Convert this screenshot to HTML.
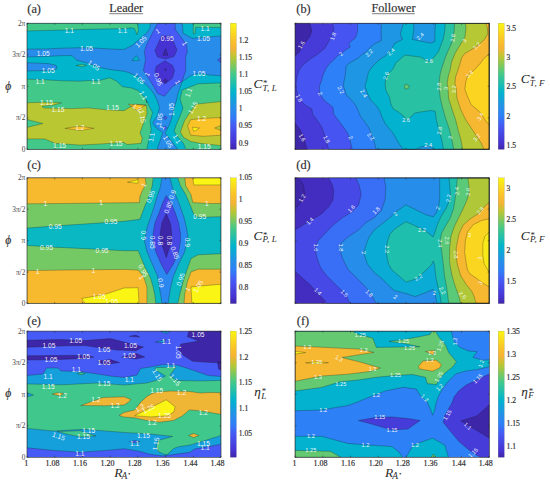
<!DOCTYPE html><html><head><meta charset="utf-8"><style>html,body{margin:0;padding:0;background:#fff;}svg{display:block}</style></head><body><svg width="550" height="483" viewBox="0 0 550 483">
<rect width="550" height="483" fill="#fff"/>
<defs>
<linearGradient id="cb" x1="0" y1="0" x2="0" y2="1"><stop offset="0.0000" stop-color="#faf514"/><stop offset="0.0250" stop-color="#faec18"/><stop offset="0.0500" stop-color="#fae21c"/><stop offset="0.0750" stop-color="#fad91f"/><stop offset="0.1000" stop-color="#facf23"/><stop offset="0.1250" stop-color="#fac627"/><stop offset="0.1500" stop-color="#f9bf2b"/><stop offset="0.1750" stop-color="#f7b930"/><stop offset="0.2000" stop-color="#f5b334"/><stop offset="0.2250" stop-color="#dfbb33"/><stop offset="0.2500" stop-color="#cac233"/><stop offset="0.2750" stop-color="#b4c836"/><stop offset="0.3000" stop-color="#9ec846"/><stop offset="0.3250" stop-color="#88c856"/><stop offset="0.3500" stop-color="#72c966"/><stop offset="0.3750" stop-color="#5cc977"/><stop offset="0.4000" stop-color="#46c987"/><stop offset="0.4250" stop-color="#38c694"/><stop offset="0.4500" stop-color="#2cc2a0"/><stop offset="0.4750" stop-color="#20bfac"/><stop offset="0.5000" stop-color="#14bbb8"/><stop offset="0.5250" stop-color="#08b7c4"/><stop offset="0.5500" stop-color="#03b2ce"/><stop offset="0.5750" stop-color="#0aabd4"/><stop offset="0.6000" stop-color="#11a3d9"/><stop offset="0.6250" stop-color="#199cdf"/><stop offset="0.6500" stop-color="#2094e5"/><stop offset="0.6750" stop-color="#278deb"/><stop offset="0.7000" stop-color="#2a87f0"/><stop offset="0.7250" stop-color="#2d82f6"/><stop offset="0.7500" stop-color="#3379f7"/><stop offset="0.7750" stop-color="#3a6cf6"/><stop offset="0.8000" stop-color="#4260f5"/><stop offset="0.8250" stop-color="#4656f2"/><stop offset="0.8500" stop-color="#464feb"/><stop offset="0.8750" stop-color="#4648e5"/><stop offset="0.9000" stop-color="#4640de"/><stop offset="0.9250" stop-color="#4639d8"/><stop offset="0.9500" stop-color="#4632d0"/><stop offset="0.9750" stop-color="#422cbc"/><stop offset="1.0000" stop-color="#3e26a8"/></linearGradient>
<clipPath id="cpa"><rect x="27.0" y="23.2" width="194.0" height="126.2"/></clipPath>
<clipPath id="cpb"><rect x="295.0" y="23.2" width="194.3" height="126.2"/></clipPath>
<clipPath id="cpc"><rect x="27.0" y="177.8" width="194.0" height="125.8"/></clipPath>
<clipPath id="cpd"><rect x="295.0" y="177.8" width="194.3" height="125.8"/></clipPath>
<clipPath id="cpe"><rect x="27.0" y="331.1" width="194.0" height="126.2"/></clipPath>
<clipPath id="cpf"><rect x="295.0" y="331.1" width="194.3" height="126.2"/></clipPath>
</defs>
<g clip-path="url(#cpa)">
<rect x="27.0" y="23.2" width="194.0" height="126.2" fill="#00b5cc"/>
<path d="M27.0 23.2 L137.4 23.2 L138.4 30.0 L137.0 34.7 L134.5 28.5 L131.0 27.8 L124.0 28.6 L97.5 29.1 L79.9 29.5 L62.3 30.1 L44.6 30.5 L27.0 30.9 Z" fill="#42c98a"/>
<path d="M193.3 23.2 L221.0 23.2 L221.0 27.4 L195.5 27.4 L195.0 33.8 L193.3 33.8 Z" fill="#42c98a"/>
<path d="M27.0 79.1 L44.6 79.8 L62.3 80.8 L79.9 81.2 L88.0 80.5 L97.2 81.0 L109.9 77.8 L116.3 81.0 L122.6 86.7 L131.5 88.0 L137.9 90.5 L145.5 98.2 L147.0 103.0 L146.1 100.0 L149.9 107.6 L152.5 112.7 L150.0 121.6 L151.2 129.3 L149.3 138.2 L146.7 149.4 L27.0 149.4 Z" fill="#42c98a"/>
<path d="M221.0 82.9 L198.0 83.8 L182.2 90.0 L180.0 98.8 L183.0 108.3 L179.8 116.6 L176.2 124.9 L174.1 131.1 L177.3 136.3 L183.5 143.5 L186.0 149.4 L221.0 149.4 Z" fill="#42c98a"/>
<path d="M27.0 102.8 L44.6 102.2 L61.4 102.8 L53.5 105.0 L42.0 106.3 L43.8 108.0 L71.1 108.6 L88.7 108.0 L106.4 109.8 L124.0 110.7 L135.0 104.0 L146.5 105.5 L147.0 114.0 L142.8 125.0 L140.0 133.0 L142.3 138.2 L141.0 143.3 L127.0 144.5 L124.0 142.4 L97.5 144.2 L79.9 145.1 L55.2 143.3 L44.6 138.9 L27.0 138.9 L27.0 127.4 L42.9 123.5 L27.0 119.5 Z" fill="#b9c832"/>
<path d="M221.0 101.5 L195.9 104.2 L190.7 111.4 L184.5 120.7 L180.4 132.1 L183.5 137.3 L190.7 141.5 L201.1 143.5 L221.0 145.6 Z" fill="#b9c832"/>
<path d="M64.9 128.3 L79.9 126.2 L94.0 128.3 L79.9 130.4 Z" fill="#fac328"/>
<path d="M128.5 104.3 L146.0 105.0 L137.0 110.5 Z" fill="#fac328"/>
<path d="M221.0 117.5 L201.1 118.5 L190.7 119.7 L187.6 125.9 L190.7 135.2 L203.2 136.3 L221.0 135.2 Z" fill="#fac328"/>
<path d="M221.0 125.5 L214.6 128.0 L221.0 130.5 Z" fill="#b9c832"/>
<path d="M192.3 127.2 L199.5 128.0 L193.8 131.6 Z" fill="#faf514"/>
<path d="M150.5 23.2 L182.4 23.2 L183.0 33.2 L192.3 38.3 L207.1 37.0 L221.0 36.0 L221.0 75.9 L210.0 75.0 L199.0 73.2 L190.0 76.0 L182.0 82.0 L180.4 86.5 L177.5 95.0 L176.6 100.0 L174.1 107.6 L171.5 119.1 L169.0 125.5 L166.5 130.5 L165.2 133.1 L169.0 138.2 L174.1 144.5 L177.9 149.4 L157.0 149.4 L161.4 136.9 L162.6 132.5 L156.3 128.0 L152.5 122.9 L157.5 115.3 L159.5 107.6 L157.0 100.0 L154.0 94.0 L150.6 89.3 L144.3 82.9 L137.9 76.5 L129.0 72.7 L124.0 71.2 L111.7 69.8 L100.0 67.5 L87.0 63.0 L76.4 60.0 L72.0 55.6 L62.3 55.6 L44.6 56.5 L27.0 56.9 L27.0 49.1 L44.6 48.9 L62.3 48.2 L79.9 47.7 L97.5 48.2 L111.7 49.1 L124.0 49.5 L132.8 45.0 L140.0 38.5 L146.5 33.0 L149.8 28.5 Z" fill="#288ceb"/>
<path d="M27.0 62.7 L48.2 63.6 L56.1 65.3 L57.0 68.5 L53.5 70.3 L27.0 71.0 Z" fill="#288ceb"/>
<path d="M136.3 55.6 L131.9 60.4 L139.5 60.4 Z" fill="#00b5cc"/>
<path d="M76.0 65.5 L81.7 64.3 L86.6 65.3 L81.7 66.7 Z" fill="#42c98a"/>
<path d="M157.6 23.2 L175.1 23.2 L175.5 29.8 L182.1 38.8 L186.5 44.3 L187.3 52.0 L185.5 57.0 L185.7 60.0 L185.7 70.6 L182.2 81.2 L172.5 86.5 L164.6 96.2 L157.5 93.5 L155.7 90.0 L150.5 81.2 L143.4 70.6 L145.5 60.0 L144.4 51.4 L146.5 44.8 L154.2 29.5 Z" fill="#465af5"/>
<path d="M165.2 115.8 L167.2 117.8 L165.2 119.8 L163.2 117.8 Z" fill="#465af5"/>
<path d="M164.9 125.7 L166.9 127.7 L164.9 129.7 L162.9 127.7 Z" fill="#465af5"/>
<path d="M161.5 36.0 L171.0 36.0 L177.0 50.0 L174.0 56.5 L165.5 59.0 L157.5 57.0 L155.0 50.5 Z" fill="#4632d2"/>
<path d="M165.0 60.8 L172.5 65.5 L174.5 70.5 L172.5 78.0 L165.0 84.0 L159.3 79.4 L155.0 71.5 L156.5 66.0 Z" fill="#4632d2"/>
<path d="M217.5 60.0 L221.0 57.4 L221.0 62.7 Z" fill="#465af5"/>
<path d="M165.6 48.6 L162.9 55.2 L167.8 55.2 Z" fill="#3e26a8"/>
<path d="M165.4 68.5 L166.6 69.7 L165.4 70.9 L164.2 69.7 Z" fill="#3e26a8"/>
<path d="M165.4 78.5 L167.5 80.8 L165.4 82.5 L163.3 80.8 Z" fill="#3e26a8"/>
<path d="M27.0 23.2 L137.4 23.2 L138.4 30.0 L137.0 34.7 L134.5 28.5 L131.0 27.8 L124.0 28.6 L97.5 29.1 L79.9 29.5 L62.3 30.1 L44.6 30.5 L27.0 30.9 Z M193.3 23.2 L221.0 23.2 L221.0 27.4 L195.5 27.4 L195.0 33.8 L193.3 33.8 Z M27.0 79.1 L44.6 79.8 L62.3 80.8 L79.9 81.2 L88.0 80.5 L97.2 81.0 L109.9 77.8 L116.3 81.0 L122.6 86.7 L131.5 88.0 L137.9 90.5 L145.5 98.2 L147.0 103.0 L146.1 100.0 L149.9 107.6 L152.5 112.7 L150.0 121.6 L151.2 129.3 L149.3 138.2 L146.7 149.4 L27.0 149.4 Z M221.0 82.9 L198.0 83.8 L182.2 90.0 L180.0 98.8 L183.0 108.3 L179.8 116.6 L176.2 124.9 L174.1 131.1 L177.3 136.3 L183.5 143.5 L186.0 149.4 L221.0 149.4 Z M27.0 102.8 L44.6 102.2 L61.4 102.8 L53.5 105.0 L42.0 106.3 L43.8 108.0 L71.1 108.6 L88.7 108.0 L106.4 109.8 L124.0 110.7 L135.0 104.0 L146.5 105.5 L147.0 114.0 L142.8 125.0 L140.0 133.0 L142.3 138.2 L141.0 143.3 L127.0 144.5 L124.0 142.4 L97.5 144.2 L79.9 145.1 L55.2 143.3 L44.6 138.9 L27.0 138.9 L27.0 127.4 L42.9 123.5 L27.0 119.5 Z M221.0 101.5 L195.9 104.2 L190.7 111.4 L184.5 120.7 L180.4 132.1 L183.5 137.3 L190.7 141.5 L201.1 143.5 L221.0 145.6 Z M64.9 128.3 L79.9 126.2 L94.0 128.3 L79.9 130.4 Z M128.5 104.3 L146.0 105.0 L137.0 110.5 Z M221.0 117.5 L201.1 118.5 L190.7 119.7 L187.6 125.9 L190.7 135.2 L203.2 136.3 L221.0 135.2 Z M221.0 125.5 L214.6 128.0 L221.0 130.5 Z M192.3 127.2 L199.5 128.0 L193.8 131.6 Z M150.5 23.2 L182.4 23.2 L183.0 33.2 L192.3 38.3 L207.1 37.0 L221.0 36.0 L221.0 75.9 L210.0 75.0 L199.0 73.2 L190.0 76.0 L182.0 82.0 L180.4 86.5 L177.5 95.0 L176.6 100.0 L174.1 107.6 L171.5 119.1 L169.0 125.5 L166.5 130.5 L165.2 133.1 L169.0 138.2 L174.1 144.5 L177.9 149.4 L157.0 149.4 L161.4 136.9 L162.6 132.5 L156.3 128.0 L152.5 122.9 L157.5 115.3 L159.5 107.6 L157.0 100.0 L154.0 94.0 L150.6 89.3 L144.3 82.9 L137.9 76.5 L129.0 72.7 L124.0 71.2 L111.7 69.8 L100.0 67.5 L87.0 63.0 L76.4 60.0 L72.0 55.6 L62.3 55.6 L44.6 56.5 L27.0 56.9 L27.0 49.1 L44.6 48.9 L62.3 48.2 L79.9 47.7 L97.5 48.2 L111.7 49.1 L124.0 49.5 L132.8 45.0 L140.0 38.5 L146.5 33.0 L149.8 28.5 Z M27.0 62.7 L48.2 63.6 L56.1 65.3 L57.0 68.5 L53.5 70.3 L27.0 71.0 Z M136.3 55.6 L131.9 60.4 L139.5 60.4 Z M76.0 65.5 L81.7 64.3 L86.6 65.3 L81.7 66.7 Z M157.6 23.2 L175.1 23.2 L175.5 29.8 L182.1 38.8 L186.5 44.3 L187.3 52.0 L185.5 57.0 L185.7 60.0 L185.7 70.6 L182.2 81.2 L172.5 86.5 L164.6 96.2 L157.5 93.5 L155.7 90.0 L150.5 81.2 L143.4 70.6 L145.5 60.0 L144.4 51.4 L146.5 44.8 L154.2 29.5 Z M165.2 115.8 L167.2 117.8 L165.2 119.8 L163.2 117.8 Z M164.9 125.7 L166.9 127.7 L164.9 129.7 L162.9 127.7 Z M161.5 36.0 L171.0 36.0 L177.0 50.0 L174.0 56.5 L165.5 59.0 L157.5 57.0 L155.0 50.5 Z M165.0 60.8 L172.5 65.5 L174.5 70.5 L172.5 78.0 L165.0 84.0 L159.3 79.4 L155.0 71.5 L156.5 66.0 Z M217.5 60.0 L221.0 57.4 L221.0 62.7 Z M165.6 48.6 L162.9 55.2 L167.8 55.2 Z M165.4 68.5 L166.6 69.7 L165.4 70.9 L164.2 69.7 Z M165.4 78.5 L167.5 80.8 L165.4 82.5 L163.3 80.8 Z" fill="none" stroke="#1a1a1a" stroke-opacity="0.55" stroke-width="0.5"/>
<text x="69.3" y="30.9" transform="rotate(0 69.3 30.9)" font-family="Liberation Sans, sans-serif" font-size="6.7" fill="#fff" fill-opacity="0.92" text-anchor="middle" dominant-baseline="central">1.1</text>
<text x="86.6" y="48.9" transform="rotate(0 86.6 48.9)" font-family="Liberation Sans, sans-serif" font-size="6.7" fill="#fff" fill-opacity="0.92" text-anchor="middle" dominant-baseline="central">1.05</text>
<text x="43.2" y="53.3" transform="rotate(0 43.2 53.3)" font-family="Liberation Sans, sans-serif" font-size="6.7" fill="#fff" fill-opacity="0.92" text-anchor="middle" dominant-baseline="central">1.05</text>
<text x="94.0" y="65.3" transform="rotate(35 94.0 65.3)" font-family="Liberation Sans, sans-serif" font-size="6.7" fill="#fff" fill-opacity="0.92" text-anchor="middle" dominant-baseline="central">1.05</text>
<text x="48.2" y="70.3" transform="rotate(0 48.2 70.3)" font-family="Liberation Sans, sans-serif" font-size="6.7" fill="#fff" fill-opacity="0.92" text-anchor="middle" dominant-baseline="central">1.05</text>
<text x="40.2" y="81.2" transform="rotate(0 40.2 81.2)" font-family="Liberation Sans, sans-serif" font-size="6.7" fill="#fff" fill-opacity="0.92" text-anchor="middle" dominant-baseline="central">1.1</text>
<text x="95.8" y="81.2" transform="rotate(0 95.8 81.2)" font-family="Liberation Sans, sans-serif" font-size="6.7" fill="#fff" fill-opacity="0.92" text-anchor="middle" dominant-baseline="central">1.1</text>
<text x="122.5" y="30.3" transform="rotate(0 122.5 30.3)" font-family="Liberation Sans, sans-serif" font-size="6.7" fill="#fff" fill-opacity="0.92" text-anchor="middle" dominant-baseline="central">1.1</text>
<text x="140.8" y="41.5" transform="rotate(-45 140.8 41.5)" font-family="Liberation Sans, sans-serif" font-size="6.7" fill="#fff" fill-opacity="0.92" text-anchor="middle" dominant-baseline="central">1.05</text>
<text x="157.5" y="31.0" transform="rotate(-30 157.5 31.0)" font-family="Liberation Sans, sans-serif" font-size="6.7" fill="#fff" fill-opacity="0.92" text-anchor="middle" dominant-baseline="central">1</text>
<text x="167.2" y="38.9" transform="rotate(0 167.2 38.9)" font-family="Liberation Sans, sans-serif" font-size="6.7" fill="#fff" fill-opacity="0.92" text-anchor="middle" dominant-baseline="central">0.95</text>
<text x="184.8" y="43.3" transform="rotate(60 184.8 43.3)" font-family="Liberation Sans, sans-serif" font-size="6.7" fill="#fff" fill-opacity="0.92" text-anchor="middle" dominant-baseline="central">1</text>
<text x="205.1" y="28.3" transform="rotate(0 205.1 28.3)" font-family="Liberation Sans, sans-serif" font-size="6.7" fill="#fff" fill-opacity="0.92" text-anchor="middle" dominant-baseline="central">1.1</text>
<text x="203.4" y="38.5" transform="rotate(0 203.4 38.5)" font-family="Liberation Sans, sans-serif" font-size="6.7" fill="#fff" fill-opacity="0.92" text-anchor="middle" dominant-baseline="central">1.05</text>
<text x="139.0" y="78.6" transform="rotate(45 139.0 78.6)" font-family="Liberation Sans, sans-serif" font-size="6.7" fill="#fff" fill-opacity="0.92" text-anchor="middle" dominant-baseline="central">1.05</text>
<text x="146.9" y="74.1" transform="rotate(-60 146.9 74.1)" font-family="Liberation Sans, sans-serif" font-size="6.7" fill="#fff" fill-opacity="0.92" text-anchor="middle" dominant-baseline="central">1</text>
<text x="158.4" y="79.4" transform="rotate(70 158.4 79.4)" font-family="Liberation Sans, sans-serif" font-size="6.7" fill="#fff" fill-opacity="0.92" text-anchor="middle" dominant-baseline="central">0.95</text>
<text x="177.8" y="82.1" transform="rotate(60 177.8 82.1)" font-family="Liberation Sans, sans-serif" font-size="6.7" fill="#fff" fill-opacity="0.92" text-anchor="middle" dominant-baseline="central">1</text>
<text x="199.0" y="73.3" transform="rotate(0 199.0 73.3)" font-family="Liberation Sans, sans-serif" font-size="6.7" fill="#fff" fill-opacity="0.92" text-anchor="middle" dominant-baseline="central">1.05</text>
<text x="143.4" y="95.3" transform="rotate(60 143.4 95.3)" font-family="Liberation Sans, sans-serif" font-size="6.7" fill="#fff" fill-opacity="0.92" text-anchor="middle" dominant-baseline="central">1.1</text>
<text x="188.4" y="92.6" transform="rotate(-70 188.4 92.6)" font-family="Liberation Sans, sans-serif" font-size="6.7" fill="#fff" fill-opacity="0.92" text-anchor="middle" dominant-baseline="central">1.1</text>
<text x="171.6" y="109.4" transform="rotate(-90 171.6 109.4)" font-family="Liberation Sans, sans-serif" font-size="6.7" fill="#fff" fill-opacity="0.92" text-anchor="middle" dominant-baseline="central">1.05</text>
<text x="142.5" y="116.4" transform="rotate(80 142.5 116.4)" font-family="Liberation Sans, sans-serif" font-size="6.7" fill="#fff" fill-opacity="0.92" text-anchor="middle" dominant-baseline="central">1.15</text>
<text x="192.8" y="107.6" transform="rotate(-60 192.8 107.6)" font-family="Liberation Sans, sans-serif" font-size="6.7" fill="#fff" fill-opacity="0.92" text-anchor="middle" dominant-baseline="central">1.15</text>
<text x="201.6" y="118.2" transform="rotate(0 201.6 118.2)" font-family="Liberation Sans, sans-serif" font-size="6.7" fill="#fff" fill-opacity="0.92" text-anchor="middle" dominant-baseline="central">1.2</text>
<text x="137.2" y="107.6" transform="rotate(30 137.2 107.6)" font-family="Liberation Sans, sans-serif" font-size="6.7" fill="#fff" fill-opacity="0.92" text-anchor="middle" dominant-baseline="central">1.2</text>
<text x="159.3" y="119.5" transform="rotate(-80 159.3 119.5)" font-family="Liberation Sans, sans-serif" font-size="6.7" fill="#fff" fill-opacity="0.92" text-anchor="middle" dominant-baseline="central">1.05</text>
<text x="161.9" y="127.4" transform="rotate(-60 161.9 127.4)" font-family="Liberation Sans, sans-serif" font-size="6.7" fill="#fff" fill-opacity="0.92" text-anchor="middle" dominant-baseline="central">1</text>
<text x="151.3" y="137.1" transform="rotate(-80 151.3 137.1)" font-family="Liberation Sans, sans-serif" font-size="6.7" fill="#fff" fill-opacity="0.92" text-anchor="middle" dominant-baseline="central">1.1</text>
<text x="176.9" y="138.9" transform="rotate(60 176.9 138.9)" font-family="Liberation Sans, sans-serif" font-size="6.7" fill="#fff" fill-opacity="0.92" text-anchor="middle" dominant-baseline="central">1.1</text>
<text x="168.1" y="141.6" transform="rotate(60 168.1 141.6)" font-family="Liberation Sans, sans-serif" font-size="6.7" fill="#fff" fill-opacity="0.92" text-anchor="middle" dominant-baseline="central">1.05</text>
<text x="204.2" y="146.0" transform="rotate(0 204.2 146.0)" font-family="Liberation Sans, sans-serif" font-size="6.7" fill="#fff" fill-opacity="0.92" text-anchor="middle" dominant-baseline="central">1.15</text>
<text x="46.4" y="102.2" transform="rotate(0 46.4 102.2)" font-family="Liberation Sans, sans-serif" font-size="6.7" fill="#fff" fill-opacity="0.92" text-anchor="middle" dominant-baseline="central">1.15</text>
<text x="57.9" y="109.5" transform="rotate(0 57.9 109.5)" font-family="Liberation Sans, sans-serif" font-size="6.7" fill="#fff" fill-opacity="0.92" text-anchor="middle" dominant-baseline="central">1.15</text>
<text x="112.5" y="107.5" transform="rotate(0 112.5 107.5)" font-family="Liberation Sans, sans-serif" font-size="6.7" fill="#fff" fill-opacity="0.92" text-anchor="middle" dominant-baseline="central">1.15</text>
<text x="79.9" y="127.4" transform="rotate(0 79.9 127.4)" font-family="Liberation Sans, sans-serif" font-size="6.7" fill="#fff" fill-opacity="0.92" text-anchor="middle" dominant-baseline="central">1.2</text>
<text x="59.6" y="145.1" transform="rotate(0 59.6 145.1)" font-family="Liberation Sans, sans-serif" font-size="6.7" fill="#fff" fill-opacity="0.92" text-anchor="middle" dominant-baseline="central">1.15</text>
<text x="116.1" y="143.3" transform="rotate(0 116.1 143.3)" font-family="Liberation Sans, sans-serif" font-size="6.7" fill="#fff" fill-opacity="0.92" text-anchor="middle" dominant-baseline="central">1.15</text>
</g>
<rect x="27.0" y="23.2" width="194.0" height="126.2" fill="none" stroke="#262626" stroke-width="0.6"/>
<path d="M27.0 23.2 v1.6 M27.0 149.4 v-1.6 M54.7 23.2 v1.6 M54.7 149.4 v-1.6 M82.4 23.2 v1.6 M82.4 149.4 v-1.6 M110.1 23.2 v1.6 M110.1 149.4 v-1.6 M137.9 23.2 v1.6 M137.9 149.4 v-1.6 M165.6 23.2 v1.6 M165.6 149.4 v-1.6 M193.3 23.2 v1.6 M193.3 149.4 v-1.6 M221.0 23.2 v1.6 M221.0 149.4 v-1.6 M27.0 23.2 h1.6 M221.0 23.2 h-1.6 M27.0 54.8 h1.6 M221.0 54.8 h-1.6 M27.0 86.3 h1.6 M221.0 86.3 h-1.6 M27.0 117.9 h1.6 M221.0 117.9 h-1.6 M27.0 149.4 h1.6 M221.0 149.4 h-1.6" stroke="#262626" stroke-width="0.5" fill="none"/>
<rect x="230.3" y="23.2" width="6.1" height="126.2" fill="url(#cb)"/>
<rect x="230.3" y="23.2" width="6.1" height="126.2" fill="none" stroke="#262626" stroke-width="0.3" stroke-opacity="0.4"/>
<g clip-path="url(#cpb)">
<rect x="295.0" y="23.2" width="194.3" height="126.2" fill="#463ad9"/>
<path d="M295.0 23.2 L309.8 23.2 L311.8 31.1 L309.8 36.5 L305.8 41.8 L301.7 47.2 L299.0 52.6 L295.0 55.3 Z" fill="#3e26a8"/>
<path d="M295.0 123.0 L300.3 130.1 L303.8 137.1 L305.6 144.2 L307.3 149.4 L295.0 149.4 Z" fill="#3e26a8"/>
<path d="M332.7 23.2 L334.0 29.7 L331.3 36.5 L328.6 41.8 L324.6 48.6 L317.9 54.0 L309.8 59.3 L303.1 64.7 L299.0 70.1 L297.0 76.8 L296.0 84.0 L296.5 90.0 L299.4 99.2 L305.6 105.4 L311.8 108.9 L312.6 114.2 L317.9 121.3 L321.5 126.6 L324.1 133.6 L326.7 140.7 L328.5 149.4 L489.3 149.4 L489.3 23.2 Z" fill="#4655f1"/>
<path d="M357.6 23.2 L357.6 31.1 L355.6 37.8 L348.8 43.2 L350.2 47.2 L345.0 50.5 L341.6 53.6 L337.3 55.8 L334.4 59.5 L330.0 63.1 L326.0 68.5 L323.0 75.0 L321.5 81.0 L319.5 86.0 L319.7 93.9 L324.1 100.1 L332.9 107.2 L333.8 114.2 L339.1 121.3 L344.4 128.3 L347.9 133.6 L349.7 138.9 L351.4 146.0 L352.3 149.4 L489.3 149.4 L489.3 23.2 Z" fill="#2e80f8"/>
<path d="M381.4 23.2 L381.1 32.7 L381.4 40.6 L375.2 43.3 L370.8 46.8 L364.9 52.9 L362.0 54.4 L358.4 58.0 L351.8 61.6 L348.2 63.8 L346.0 66.7 L345.3 75.0 L344.0 81.0 L343.5 86.0 L346.1 94.8 L353.2 101.9 L356.7 107.2 L360.3 116.0 L365.5 123.0 L369.1 128.3 L371.7 135.4 L374.4 142.4 L376.1 149.4 L489.3 149.4 L489.3 23.2 Z" fill="#1e96e3"/>
<path d="M403.5 23.2 L400.3 33.9 L402.5 39.4 L394.8 43.2 L390.8 50.0 L385.8 55.6 L377.9 60.9 L372.0 67.1 L368.5 72.0 L366.4 81.2 L365.0 86.0 L367.3 93.1 L370.8 100.1 L376.1 105.4 L379.7 110.7 L382.3 117.7 L385.8 124.5 L393.1 133.3 L398.9 143.5 L403.3 149.4 L416.0 149.4 L422.0 146.5 L431.0 146.0 L434.0 149.4 L489.3 149.4 L489.3 23.2 Z" fill="#03b2ce"/>
<path d="M413.4 23.2 L413.9 29.5 L412.3 39.4 L417.7 40.5 L430.8 43.2 L434.9 41.5 L434.9 31.7 L435.5 23.2 Z" fill="#1e96e3"/>
<path d="M445.3 23.2 L444.7 31.7 L443.1 39.4 L440.9 44.8 L438.7 51.4 L434.4 56.8 L429.3 61.6 L420.4 57.1 L405.0 55.1 L396.0 62.8 L392.8 69.3 L387.6 74.4 L385.1 82.1 L385.7 89.8 L389.6 97.5 L390.8 103.9 L393.4 109.0 L398.5 112.0 L403.3 115.8 L407.0 120.5 L414.9 112.9 L430.0 110.5 L435.1 111.1 L436.4 120.1 L439.0 130.4 L441.6 139.3 L443.5 149.4 L489.3 149.4 L489.3 23.2 Z" fill="#28c1a4"/>
<path d="M405.6 84.0 L409.5 85.9 L408.2 88.5 L405.3 89.1 L404.3 86.5 Z" fill="#65c970"/>
<path d="M454.5 23.2 L454.3 30.0 L453.0 38.5 L451.0 44.5 L448.0 51.0 L445.5 57.0 L443.5 63.0 L441.5 69.0 L440.0 75.0 L439.2 82.0 L439.3 90.0 L440.3 98.3 L442.8 108.5 L445.4 117.5 L449.3 129.1 L451.8 139.3 L453.7 149.4 L489.3 149.4 L489.3 23.2 Z" fill="#65c970"/>
<path d="M465.5 23.2 L466.0 28.5 L464.9 37.2 L461.6 42.6 L458.5 47.5 L455.0 53.5 L453.0 58.5 L451.5 62.0 L450.4 69.0 L448.3 76.2 L447.2 83.5 L448.0 88.0 L448.6 98.3 L451.8 108.5 L455.7 120.1 L458.2 130.4 L460.8 139.3 L462.7 149.4 L489.3 149.4 L489.3 23.2 Z" fill="#b6c834"/>
<path d="M485.6 23.2 L487.3 27.4 L487.8 33.9 L484.5 39.4 L479.2 44.5 L472.1 49.3 L464.8 53.5 L461.7 57.6 L459.7 64.8 L457.6 71.1 L455.5 77.3 L455.0 83.5 L456.3 88.0 L457.0 98.3 L460.8 109.8 L465.9 120.1 L471.1 127.8 L476.2 135.5 L481.3 143.2 L483.9 149.4 L489.3 149.4 L489.3 23.2 Z" fill="#f6b830"/>
<path d="M489.3 54.0 L484.0 58.2 L480.3 63.4 L474.2 70.0 L468.0 75.2 L465.9 81.4 L464.8 89.0 L467.2 95.7 L471.1 104.7 L477.5 109.8 L481.3 113.7 L485.2 120.1 L489.3 125.2 L489.3 125.2 Z" fill="#fad421"/>
<path d="M295.0 23.2 L309.8 23.2 L311.8 31.1 L309.8 36.5 L305.8 41.8 L301.7 47.2 L299.0 52.6 L295.0 55.3 Z M295.0 123.0 L300.3 130.1 L303.8 137.1 L305.6 144.2 L307.3 149.4 L295.0 149.4 Z M332.7 23.2 L334.0 29.7 L331.3 36.5 L328.6 41.8 L324.6 48.6 L317.9 54.0 L309.8 59.3 L303.1 64.7 L299.0 70.1 L297.0 76.8 L296.0 84.0 L296.5 90.0 L299.4 99.2 L305.6 105.4 L311.8 108.9 L312.6 114.2 L317.9 121.3 L321.5 126.6 L324.1 133.6 L326.7 140.7 L328.5 149.4 L489.3 149.4 L489.3 23.2 Z M357.6 23.2 L357.6 31.1 L355.6 37.8 L348.8 43.2 L350.2 47.2 L345.0 50.5 L341.6 53.6 L337.3 55.8 L334.4 59.5 L330.0 63.1 L326.0 68.5 L323.0 75.0 L321.5 81.0 L319.5 86.0 L319.7 93.9 L324.1 100.1 L332.9 107.2 L333.8 114.2 L339.1 121.3 L344.4 128.3 L347.9 133.6 L349.7 138.9 L351.4 146.0 L352.3 149.4 L489.3 149.4 L489.3 23.2 Z M381.4 23.2 L381.1 32.7 L381.4 40.6 L375.2 43.3 L370.8 46.8 L364.9 52.9 L362.0 54.4 L358.4 58.0 L351.8 61.6 L348.2 63.8 L346.0 66.7 L345.3 75.0 L344.0 81.0 L343.5 86.0 L346.1 94.8 L353.2 101.9 L356.7 107.2 L360.3 116.0 L365.5 123.0 L369.1 128.3 L371.7 135.4 L374.4 142.4 L376.1 149.4 L489.3 149.4 L489.3 23.2 Z M403.5 23.2 L400.3 33.9 L402.5 39.4 L394.8 43.2 L390.8 50.0 L385.8 55.6 L377.9 60.9 L372.0 67.1 L368.5 72.0 L366.4 81.2 L365.0 86.0 L367.3 93.1 L370.8 100.1 L376.1 105.4 L379.7 110.7 L382.3 117.7 L385.8 124.5 L393.1 133.3 L398.9 143.5 L403.3 149.4 L416.0 149.4 L422.0 146.5 L431.0 146.0 L434.0 149.4 L489.3 149.4 L489.3 23.2 Z M413.4 23.2 L413.9 29.5 L412.3 39.4 L417.7 40.5 L430.8 43.2 L434.9 41.5 L434.9 31.7 L435.5 23.2 Z M445.3 23.2 L444.7 31.7 L443.1 39.4 L440.9 44.8 L438.7 51.4 L434.4 56.8 L429.3 61.6 L420.4 57.1 L405.0 55.1 L396.0 62.8 L392.8 69.3 L387.6 74.4 L385.1 82.1 L385.7 89.8 L389.6 97.5 L390.8 103.9 L393.4 109.0 L398.5 112.0 L403.3 115.8 L407.0 120.5 L414.9 112.9 L430.0 110.5 L435.1 111.1 L436.4 120.1 L439.0 130.4 L441.6 139.3 L443.5 149.4 L489.3 149.4 L489.3 23.2 Z M405.6 84.0 L409.5 85.9 L408.2 88.5 L405.3 89.1 L404.3 86.5 Z M454.5 23.2 L454.3 30.0 L453.0 38.5 L451.0 44.5 L448.0 51.0 L445.5 57.0 L443.5 63.0 L441.5 69.0 L440.0 75.0 L439.2 82.0 L439.3 90.0 L440.3 98.3 L442.8 108.5 L445.4 117.5 L449.3 129.1 L451.8 139.3 L453.7 149.4 L489.3 149.4 L489.3 23.2 Z M465.5 23.2 L466.0 28.5 L464.9 37.2 L461.6 42.6 L458.5 47.5 L455.0 53.5 L453.0 58.5 L451.5 62.0 L450.4 69.0 L448.3 76.2 L447.2 83.5 L448.0 88.0 L448.6 98.3 L451.8 108.5 L455.7 120.1 L458.2 130.4 L460.8 139.3 L462.7 149.4 L489.3 149.4 L489.3 23.2 Z M485.6 23.2 L487.3 27.4 L487.8 33.9 L484.5 39.4 L479.2 44.5 L472.1 49.3 L464.8 53.5 L461.7 57.6 L459.7 64.8 L457.6 71.1 L455.5 77.3 L455.0 83.5 L456.3 88.0 L457.0 98.3 L460.8 109.8 L465.9 120.1 L471.1 127.8 L476.2 135.5 L481.3 143.2 L483.9 149.4 L489.3 149.4 L489.3 23.2 Z M489.3 54.0 L484.0 58.2 L480.3 63.4 L474.2 70.0 L468.0 75.2 L465.9 81.4 L464.8 89.0 L467.2 95.7 L471.1 104.7 L477.5 109.8 L481.3 113.7 L485.2 120.1 L489.3 125.2 L489.3 125.2 Z" fill="none" stroke="#1a1a1a" stroke-opacity="0.55" stroke-width="0.5"/>
<text x="301.3" y="44.9" transform="rotate(-60 301.3 44.9)" font-family="Liberation Sans, sans-serif" font-size="5.7" fill="#fff" fill-opacity="0.92" text-anchor="middle" dominant-baseline="central">1.6</text>
<text x="333.1" y="36.4" transform="rotate(-70 333.1 36.4)" font-family="Liberation Sans, sans-serif" font-size="5.7" fill="#fff" fill-opacity="0.92" text-anchor="middle" dominant-baseline="central">1.8</text>
<text x="340.9" y="54.0" transform="rotate(-45 340.9 54.0)" font-family="Liberation Sans, sans-serif" font-size="5.7" fill="#fff" fill-opacity="0.92" text-anchor="middle" dominant-baseline="central">2</text>
<text x="369.1" y="53.0" transform="rotate(-45 369.1 53.0)" font-family="Liberation Sans, sans-serif" font-size="5.7" fill="#fff" fill-opacity="0.92" text-anchor="middle" dominant-baseline="central">2.2</text>
<text x="391.0" y="51.9" transform="rotate(-45 391.0 51.9)" font-family="Liberation Sans, sans-serif" font-size="5.7" fill="#fff" fill-opacity="0.92" text-anchor="middle" dominant-baseline="central">2.4</text>
<text x="420.2" y="36.4" transform="rotate(-45 420.2 36.4)" font-family="Liberation Sans, sans-serif" font-size="5.7" fill="#fff" fill-opacity="0.92" text-anchor="middle" dominant-baseline="central">2.4</text>
<text x="429.0" y="61.1" transform="rotate(0 429.0 61.1)" font-family="Liberation Sans, sans-serif" font-size="5.7" fill="#fff" fill-opacity="0.92" text-anchor="middle" dominant-baseline="central">2.6</text>
<text x="386.0" y="75.9" transform="rotate(-70 386.0 75.9)" font-family="Liberation Sans, sans-serif" font-size="5.7" fill="#fff" fill-opacity="0.92" text-anchor="middle" dominant-baseline="central">2.6</text>
<text x="453.0" y="37.8" transform="rotate(-80 453.0 37.8)" font-family="Liberation Sans, sans-serif" font-size="5.7" fill="#fff" fill-opacity="0.92" text-anchor="middle" dominant-baseline="central">2.8</text>
<text x="464.3" y="40.6" transform="rotate(-60 464.3 40.6)" font-family="Liberation Sans, sans-serif" font-size="5.7" fill="#fff" fill-opacity="0.92" text-anchor="middle" dominant-baseline="central">3</text>
<text x="476.7" y="45.9" transform="rotate(-45 476.7 45.9)" font-family="Liberation Sans, sans-serif" font-size="5.7" fill="#fff" fill-opacity="0.92" text-anchor="middle" dominant-baseline="central">3.2</text>
<text x="469.6" y="74.1" transform="rotate(-45 469.6 74.1)" font-family="Liberation Sans, sans-serif" font-size="5.7" fill="#fff" fill-opacity="0.92" text-anchor="middle" dominant-baseline="central">3.4</text>
<text x="438.9" y="86.5" transform="rotate(-90 438.9 86.5)" font-family="Liberation Sans, sans-serif" font-size="5.7" fill="#fff" fill-opacity="0.92" text-anchor="middle" dominant-baseline="central">2.8</text>
<text x="446.0" y="88.3" transform="rotate(-90 446.0 88.3)" font-family="Liberation Sans, sans-serif" font-size="5.7" fill="#fff" fill-opacity="0.92" text-anchor="middle" dominant-baseline="central">3</text>
<text x="454.4" y="89.3" transform="rotate(-90 454.4 89.3)" font-family="Liberation Sans, sans-serif" font-size="5.7" fill="#fff" fill-opacity="0.92" text-anchor="middle" dominant-baseline="central">3.2</text>
<text x="299.2" y="98.1" transform="rotate(60 299.2 98.1)" font-family="Liberation Sans, sans-serif" font-size="5.7" fill="#fff" fill-opacity="0.92" text-anchor="middle" dominant-baseline="central">1.8</text>
<text x="320.4" y="93.5" transform="rotate(60 320.4 93.5)" font-family="Liberation Sans, sans-serif" font-size="5.7" fill="#fff" fill-opacity="0.92" text-anchor="middle" dominant-baseline="central">2</text>
<text x="340.9" y="90.0" transform="rotate(60 340.9 90.0)" font-family="Liberation Sans, sans-serif" font-size="5.7" fill="#fff" fill-opacity="0.92" text-anchor="middle" dominant-baseline="central">2.2</text>
<text x="363.8" y="93.5" transform="rotate(60 363.8 93.5)" font-family="Liberation Sans, sans-serif" font-size="5.7" fill="#fff" fill-opacity="0.92" text-anchor="middle" dominant-baseline="central">2.4</text>
<text x="406.1" y="120.0" transform="rotate(0 406.1 120.0)" font-family="Liberation Sans, sans-serif" font-size="5.7" fill="#fff" fill-opacity="0.92" text-anchor="middle" dominant-baseline="central">2.6</text>
<text x="439.6" y="130.6" transform="rotate(-80 439.6 130.6)" font-family="Liberation Sans, sans-serif" font-size="5.7" fill="#fff" fill-opacity="0.92" text-anchor="middle" dominant-baseline="central">2.8</text>
<text x="450.2" y="137.6" transform="rotate(-70 450.2 137.6)" font-family="Liberation Sans, sans-serif" font-size="5.7" fill="#fff" fill-opacity="0.92" text-anchor="middle" dominant-baseline="central">3</text>
<text x="476.7" y="137.6" transform="rotate(-50 476.7 137.6)" font-family="Liberation Sans, sans-serif" font-size="5.7" fill="#fff" fill-opacity="0.92" text-anchor="middle" dominant-baseline="central">3.2</text>
<text x="480.2" y="116.5" transform="rotate(-60 480.2 116.5)" font-family="Liberation Sans, sans-serif" font-size="5.7" fill="#fff" fill-opacity="0.92" text-anchor="middle" dominant-baseline="central">3.4</text>
<text x="428.3" y="144.7" transform="rotate(0 428.3 144.7)" font-family="Liberation Sans, sans-serif" font-size="5.7" fill="#fff" fill-opacity="0.92" text-anchor="middle" dominant-baseline="central">2.4</text>
<text x="370.8" y="136.6" transform="rotate(50 370.8 136.6)" font-family="Liberation Sans, sans-serif" font-size="5.7" fill="#fff" fill-opacity="0.92" text-anchor="middle" dominant-baseline="central">2.2</text>
<text x="350.7" y="137.6" transform="rotate(60 350.7 137.6)" font-family="Liberation Sans, sans-serif" font-size="5.7" fill="#fff" fill-opacity="0.92" text-anchor="middle" dominant-baseline="central">2</text>
<text x="326.7" y="139.4" transform="rotate(60 326.7 139.4)" font-family="Liberation Sans, sans-serif" font-size="5.7" fill="#fff" fill-opacity="0.92" text-anchor="middle" dominant-baseline="central">1.8</text>
<text x="302.1" y="137.6" transform="rotate(60 302.1 137.6)" font-family="Liberation Sans, sans-serif" font-size="5.7" fill="#fff" fill-opacity="0.92" text-anchor="middle" dominant-baseline="central">1.6</text>
</g>
<rect x="295.0" y="23.2" width="194.3" height="126.2" fill="none" stroke="#262626" stroke-width="0.6"/>
<path d="M295.0 23.2 v1.6 M295.0 149.4 v-1.6 M322.8 23.2 v1.6 M322.8 149.4 v-1.6 M350.5 23.2 v1.6 M350.5 149.4 v-1.6 M378.3 23.2 v1.6 M378.3 149.4 v-1.6 M406.0 23.2 v1.6 M406.0 149.4 v-1.6 M433.8 23.2 v1.6 M433.8 149.4 v-1.6 M461.5 23.2 v1.6 M461.5 149.4 v-1.6 M489.3 23.2 v1.6 M489.3 149.4 v-1.6 M295.0 23.2 h1.6 M489.3 23.2 h-1.6 M295.0 54.8 h1.6 M489.3 54.8 h-1.6 M295.0 86.3 h1.6 M489.3 86.3 h-1.6 M295.0 117.9 h1.6 M489.3 117.9 h-1.6 M295.0 149.4 h1.6 M489.3 149.4 h-1.6" stroke="#262626" stroke-width="0.5" fill="none"/>
<rect x="498.2" y="23.2" width="6.1" height="126.2" fill="url(#cb)"/>
<rect x="498.2" y="23.2" width="6.1" height="126.2" fill="none" stroke="#262626" stroke-width="0.3" stroke-opacity="0.4"/>
<g clip-path="url(#cpc)">
<rect x="27.0" y="177.8" width="194.0" height="125.8" fill="#74c965"/>
<path d="M27.0 177.8 L145.2 177.8 L146.0 184.0 L142.5 190.2 L139.9 196.4 L139.5 202.6 L124.0 202.8 L97.5 203.1 L62.3 203.5 L27.0 203.8 Z" fill="#f7ba2f"/>
<path d="M184.8 177.8 L221.0 177.8 L221.0 203.5 L208.7 203.5 L192.8 202.6 L191.0 194.6 L185.7 185.8 Z" fill="#f7ba2f"/>
<path d="M27.0 270.6 L62.3 270.1 L97.5 269.7 L124.0 269.4 L138.1 270.1 L143.4 276.3 L146.9 286.9 L147.0 303.4 L27.0 303.4 Z" fill="#f7ba2f"/>
<path d="M221.0 269.2 L198.1 269.2 L191.0 271.9 L187.5 281.6 L184.8 293.9 L184.0 303.4 L221.0 303.4 Z" fill="#f7ba2f"/>
<path d="M127.5 182.3 L138.1 179.6 L138.1 183.2 Z" fill="#faf514"/>
<path d="M192.8 177.8 L221.0 177.8 L221.0 184.9 L193.7 184.9 Z" fill="#faf514"/>
<path d="M81.7 298.5 L104.6 294.5 L124.0 288.0 L138.1 287.7 L139.0 303.4 L85.0 303.4 Z" fill="#faf514"/>
<path d="M191.0 286.9 L221.0 284.2 L221.0 303.4 L191.9 303.4 Z" fill="#faf514"/>
<path d="M27.0 228.1 L53.5 226.0 L79.9 224.3 L106.4 222.5 L124.0 221.3 L139.9 219.3 L142.5 212.3 L145.2 205.2 L149.6 194.6 L152.2 185.8 L153.1 177.8 L177.8 177.8 L180.4 185.8 L185.7 194.6 L191.0 207.0 L193.7 214.0 L198.1 217.3 L221.0 216.7 L221.0 253.7 L198.1 254.8 L191.0 258.6 L186.6 271.0 L183.1 281.6 L180.4 292.1 L177.8 303.4 L155.7 303.4 L154.9 295.7 L153.1 286.9 L150.5 278.0 L145.2 267.5 L140.8 256.9 L138.1 250.7 L124.0 250.7 L106.4 249.8 L79.9 248.4 L53.5 247.2 L27.0 245.4 Z" fill="#09b8c3"/>
<path d="M161.9 177.8 L169.9 177.8 L172.5 187.6 L176.9 198.2 L180.4 207.0 L184.0 217.6 L186.6 228.1 L188.0 237.0 L186.6 241.0 L184.8 251.6 L178.7 263.9 L173.4 276.3 L170.7 286.9 L169.0 297.4 L168.1 303.4 L161.9 303.4 L161.0 297.4 L159.3 286.9 L157.5 276.3 L152.2 263.9 L146.9 251.6 L144.5 241.0 L145.2 237.0 L146.9 228.1 L150.5 217.6 L154.0 207.0 L156.6 198.2 L160.2 187.6 Z" fill="#2a88f0"/>
<path d="M166.3 195.5 L171.0 203.0 L175.1 212.3 L178.7 222.9 L180.4 233.4 L180.5 241.0 L178.7 251.6 L173.4 263.9 L166.8 274.5 L161.0 263.9 L155.7 251.6 L153.0 241.0 L153.1 233.4 L154.9 222.9 L159.3 212.3 L162.5 203.0 Z" fill="#4648e5"/>
<path d="M166.3 213.5 L170.7 224.6 L171.6 233.4 L171.5 241.0 L166.3 257.8 L160.8 241.0 L160.2 233.4 L161.9 222.9 Z" fill="#3e26a8"/>
<path d="M27.0 177.8 L145.2 177.8 L146.0 184.0 L142.5 190.2 L139.9 196.4 L139.5 202.6 L124.0 202.8 L97.5 203.1 L62.3 203.5 L27.0 203.8 Z M184.8 177.8 L221.0 177.8 L221.0 203.5 L208.7 203.5 L192.8 202.6 L191.0 194.6 L185.7 185.8 Z M27.0 270.6 L62.3 270.1 L97.5 269.7 L124.0 269.4 L138.1 270.1 L143.4 276.3 L146.9 286.9 L147.0 303.4 L27.0 303.4 Z M221.0 269.2 L198.1 269.2 L191.0 271.9 L187.5 281.6 L184.8 293.9 L184.0 303.4 L221.0 303.4 Z M127.5 182.3 L138.1 179.6 L138.1 183.2 Z M192.8 177.8 L221.0 177.8 L221.0 184.9 L193.7 184.9 Z M81.7 298.5 L104.6 294.5 L124.0 288.0 L138.1 287.7 L139.0 303.4 L85.0 303.4 Z M191.0 286.9 L221.0 284.2 L221.0 303.4 L191.9 303.4 Z M27.0 228.1 L53.5 226.0 L79.9 224.3 L106.4 222.5 L124.0 221.3 L139.9 219.3 L142.5 212.3 L145.2 205.2 L149.6 194.6 L152.2 185.8 L153.1 177.8 L177.8 177.8 L180.4 185.8 L185.7 194.6 L191.0 207.0 L193.7 214.0 L198.1 217.3 L221.0 216.7 L221.0 253.7 L198.1 254.8 L191.0 258.6 L186.6 271.0 L183.1 281.6 L180.4 292.1 L177.8 303.4 L155.7 303.4 L154.9 295.7 L153.1 286.9 L150.5 278.0 L145.2 267.5 L140.8 256.9 L138.1 250.7 L124.0 250.7 L106.4 249.8 L79.9 248.4 L53.5 247.2 L27.0 245.4 Z M161.9 177.8 L169.9 177.8 L172.5 187.6 L176.9 198.2 L180.4 207.0 L184.0 217.6 L186.6 228.1 L188.0 237.0 L186.6 241.0 L184.8 251.6 L178.7 263.9 L173.4 276.3 L170.7 286.9 L169.0 297.4 L168.1 303.4 L161.9 303.4 L161.0 297.4 L159.3 286.9 L157.5 276.3 L152.2 263.9 L146.9 251.6 L144.5 241.0 L145.2 237.0 L146.9 228.1 L150.5 217.6 L154.0 207.0 L156.6 198.2 L160.2 187.6 Z M166.3 195.5 L171.0 203.0 L175.1 212.3 L178.7 222.9 L180.4 233.4 L180.5 241.0 L178.7 251.6 L173.4 263.9 L166.8 274.5 L161.0 263.9 L155.7 251.6 L153.0 241.0 L153.1 233.4 L154.9 222.9 L159.3 212.3 L162.5 203.0 Z M166.3 213.5 L170.7 224.6 L171.6 233.4 L171.5 241.0 L166.3 257.8 L160.8 241.0 L160.2 233.4 L161.9 222.9 Z" fill="none" stroke="#1a1a1a" stroke-opacity="0.55" stroke-width="0.5"/>
<text x="45.3" y="203.5" transform="rotate(0 45.3 203.5)" font-family="Liberation Sans, sans-serif" font-size="6.7" fill="#fff" fill-opacity="0.92" text-anchor="middle" dominant-baseline="central">1</text>
<text x="101.1" y="202.7" transform="rotate(0 101.1 202.7)" font-family="Liberation Sans, sans-serif" font-size="6.7" fill="#fff" fill-opacity="0.92" text-anchor="middle" dominant-baseline="central">1</text>
<text x="55.2" y="226.4" transform="rotate(0 55.2 226.4)" font-family="Liberation Sans, sans-serif" font-size="6.7" fill="#fff" fill-opacity="0.92" text-anchor="middle" dominant-baseline="central">0.95</text>
<text x="111.0" y="221.8" transform="rotate(0 111.0 221.8)" font-family="Liberation Sans, sans-serif" font-size="6.7" fill="#fff" fill-opacity="0.92" text-anchor="middle" dominant-baseline="central">0.95</text>
<text x="46.4" y="247.5" transform="rotate(0 46.4 247.5)" font-family="Liberation Sans, sans-serif" font-size="6.7" fill="#fff" fill-opacity="0.92" text-anchor="middle" dominant-baseline="central">0.95</text>
<text x="102.1" y="250.4" transform="rotate(0 102.1 250.4)" font-family="Liberation Sans, sans-serif" font-size="6.7" fill="#fff" fill-opacity="0.92" text-anchor="middle" dominant-baseline="central">0.95</text>
<text x="37.6" y="271.5" transform="rotate(0 37.6 271.5)" font-family="Liberation Sans, sans-serif" font-size="6.7" fill="#fff" fill-opacity="0.92" text-anchor="middle" dominant-baseline="central">1</text>
<text x="93.3" y="270.5" transform="rotate(0 93.3 270.5)" font-family="Liberation Sans, sans-serif" font-size="6.7" fill="#fff" fill-opacity="0.92" text-anchor="middle" dominant-baseline="central">1</text>
<text x="99.3" y="296.2" transform="rotate(0 99.3 296.2)" font-family="Liberation Sans, sans-serif" font-size="6.7" fill="#fff" fill-opacity="0.92" text-anchor="middle" dominant-baseline="central">1.05</text>
<text x="111.7" y="301.2" transform="rotate(0 111.7 301.2)" font-family="Liberation Sans, sans-serif" font-size="6.7" fill="#fff" fill-opacity="0.92" text-anchor="middle" dominant-baseline="central">1.05</text>
<text x="143.4" y="184.8" transform="rotate(-60 143.4 184.8)" font-family="Liberation Sans, sans-serif" font-size="6.7" fill="#fff" fill-opacity="0.92" text-anchor="middle" dominant-baseline="central">1</text>
<text x="150.5" y="196.4" transform="rotate(-70 150.5 196.4)" font-family="Liberation Sans, sans-serif" font-size="6.7" fill="#fff" fill-opacity="0.92" text-anchor="middle" dominant-baseline="central">0.95</text>
<text x="172.3" y="194.6" transform="rotate(-70 172.3 194.6)" font-family="Liberation Sans, sans-serif" font-size="6.7" fill="#fff" fill-opacity="0.92" text-anchor="middle" dominant-baseline="central">0.9</text>
<text x="168.1" y="207.0" transform="rotate(-70 168.1 207.0)" font-family="Liberation Sans, sans-serif" font-size="6.7" fill="#fff" fill-opacity="0.92" text-anchor="middle" dominant-baseline="central">0.85</text>
<text x="143.4" y="235.2" transform="rotate(90 143.4 235.2)" font-family="Liberation Sans, sans-serif" font-size="6.7" fill="#fff" fill-opacity="0.92" text-anchor="middle" dominant-baseline="central">0.9</text>
<text x="152.2" y="242.3" transform="rotate(90 152.2 242.3)" font-family="Liberation Sans, sans-serif" font-size="6.7" fill="#fff" fill-opacity="0.92" text-anchor="middle" dominant-baseline="central">0.85</text>
<text x="160.3" y="240.5" transform="rotate(90 160.3 240.5)" font-family="Liberation Sans, sans-serif" font-size="6.7" fill="#fff" fill-opacity="0.92" text-anchor="middle" dominant-baseline="central">0.8</text>
<text x="169.9" y="240.5" transform="rotate(90 169.9 240.5)" font-family="Liberation Sans, sans-serif" font-size="6.7" fill="#fff" fill-opacity="0.92" text-anchor="middle" dominant-baseline="central">0.8</text>
<text x="175.1" y="252.8" transform="rotate(70 175.1 252.8)" font-family="Liberation Sans, sans-serif" font-size="6.7" fill="#fff" fill-opacity="0.92" text-anchor="middle" dominant-baseline="central">0.85</text>
<text x="187.5" y="242.3" transform="rotate(90 187.5 242.3)" font-family="Liberation Sans, sans-serif" font-size="6.7" fill="#fff" fill-opacity="0.92" text-anchor="middle" dominant-baseline="central">0.9</text>
<text x="199.8" y="216.5" transform="rotate(0 199.8 216.5)" font-family="Liberation Sans, sans-serif" font-size="6.7" fill="#fff" fill-opacity="0.92" text-anchor="middle" dominant-baseline="central">0.95</text>
<text x="206.9" y="203.5" transform="rotate(0 206.9 203.5)" font-family="Liberation Sans, sans-serif" font-size="6.7" fill="#fff" fill-opacity="0.92" text-anchor="middle" dominant-baseline="central">1</text>
<text x="143.4" y="270.5" transform="rotate(60 143.4 270.5)" font-family="Liberation Sans, sans-serif" font-size="6.7" fill="#fff" fill-opacity="0.92" text-anchor="middle" dominant-baseline="central">0.95</text>
<text x="141.6" y="277.5" transform="rotate(60 141.6 277.5)" font-family="Liberation Sans, sans-serif" font-size="6.7" fill="#fff" fill-opacity="0.92" text-anchor="middle" dominant-baseline="central">1</text>
<text x="161.0" y="282.8" transform="rotate(80 161.0 282.8)" font-family="Liberation Sans, sans-serif" font-size="6.7" fill="#fff" fill-opacity="0.92" text-anchor="middle" dominant-baseline="central">0.9</text>
<text x="180.4" y="279.3" transform="rotate(-70 180.4 279.3)" font-family="Liberation Sans, sans-serif" font-size="6.7" fill="#fff" fill-opacity="0.92" text-anchor="middle" dominant-baseline="central">0.95</text>
<text x="187.5" y="289.2" transform="rotate(-60 187.5 289.2)" font-family="Liberation Sans, sans-serif" font-size="6.7" fill="#fff" fill-opacity="0.92" text-anchor="middle" dominant-baseline="central">1</text>
<text x="198.1" y="286.3" transform="rotate(-60 198.1 286.3)" font-family="Liberation Sans, sans-serif" font-size="6.7" fill="#fff" fill-opacity="0.92" text-anchor="middle" dominant-baseline="central">1.05</text>
</g>
<rect x="27.0" y="177.8" width="194.0" height="125.8" fill="none" stroke="#262626" stroke-width="0.6"/>
<path d="M27.0 177.8 v1.6 M27.0 303.6 v-1.6 M54.7 177.8 v1.6 M54.7 303.6 v-1.6 M82.4 177.8 v1.6 M82.4 303.6 v-1.6 M110.1 177.8 v1.6 M110.1 303.6 v-1.6 M137.9 177.8 v1.6 M137.9 303.6 v-1.6 M165.6 177.8 v1.6 M165.6 303.6 v-1.6 M193.3 177.8 v1.6 M193.3 303.6 v-1.6 M221.0 177.8 v1.6 M221.0 303.6 v-1.6 M27.0 177.8 h1.6 M221.0 177.8 h-1.6 M27.0 209.2 h1.6 M221.0 209.2 h-1.6 M27.0 240.7 h1.6 M221.0 240.7 h-1.6 M27.0 272.1 h1.6 M221.0 272.1 h-1.6 M27.0 303.6 h1.6 M221.0 303.6 h-1.6" stroke="#262626" stroke-width="0.5" fill="none"/>
<rect x="230.3" y="177.8" width="6.1" height="125.8" fill="url(#cb)"/>
<rect x="230.3" y="177.8" width="6.1" height="125.8" fill="none" stroke="#262626" stroke-width="0.3" stroke-opacity="0.4"/>
<g clip-path="url(#cpd)">
<rect x="295.0" y="177.8" width="194.3" height="125.8" fill="#432dc1"/>
<path d="M295.0 177.8 L298.5 177.8 L302.9 184.1 L304.7 192.9 L302.9 199.9 L298.5 205.2 L295.0 207.9 Z" fill="#3e26a8"/>
<path d="M328.5 177.8 L332.0 184.1 L333.8 191.1 L332.9 199.9 L328.5 207.0 L321.5 214.0 L312.6 219.3 L303.8 224.6 L295.0 229.9 L295.0 271.4 L302.5 278.1 L310.1 284.8 L317.8 293.3 L324.4 300.0 L326.3 303.4 L489.3 303.4 L489.3 177.8 Z" fill="#4649e6"/>
<path d="M355.8 177.8 L359.4 185.8 L361.1 194.6 L358.5 205.2 L351.4 212.3 L342.6 217.6 L333.8 224.6 L326.7 231.7 L318.0 241.0 L315.3 248.1 L316.5 256.0 L317.8 260.0 L320.6 267.6 L326.3 275.2 L333.0 281.9 L338.7 287.6 L343.5 292.0 L346.5 296.0 L349.7 303.4 L489.3 303.4 L489.3 177.8 Z" fill="#396ef7"/>
<path d="M384.1 177.8 L385.8 187.6 L385.0 199.9 L381.4 210.5 L374.4 217.6 L365.5 222.9 L358.5 229.9 L348.0 237.0 L341.0 243.0 L339.5 248.1 L342.6 258.6 L347.9 269.2 L356.7 278.0 L365.5 286.9 L370.8 293.9 L376.1 303.4 L489.3 303.4 L489.3 177.8 Z" fill="#278dea"/>
<path d="M439.7 177.8 L439.7 195.0 L439.7 199.4 L438.6 205.9 L436.5 212.5 L433.2 216.8 L425.5 214.6 L416.8 210.3 L405.9 204.8 L395.0 212.5 L392.0 215.8 L383.2 222.9 L374.4 229.9 L369.1 237.0 L366.0 245.0 L363.8 253.3 L367.3 263.9 L374.4 272.7 L383.2 279.8 L390.2 286.9 L394.0 290.4 L406.1 293.6 L415.0 296.6 L423.7 293.4 L433.0 289.5 L435.2 293.4 L436.8 303.4 L489.3 303.4 L489.3 177.8 Z" fill="#0aabd4"/>
<path d="M449.0 177.8 L450.6 195.0 L449.5 200.5 L446.3 208.1 L440.8 216.8 L437.5 224.5 L435.4 231.0 L433.2 237.0 L425.5 231.0 L416.8 226.6 L405.9 221.7 L395.0 228.8 L390.0 234.0 L387.5 241.0 L386.0 251.6 L388.5 263.9 L392.0 270.0 L406.1 282.0 L415.0 279.2 L420.2 275.4 L431.4 265.0 L433.3 261.0 L434.6 265.0 L435.7 275.9 L437.9 286.8 L440.1 295.5 L441.2 303.4 L489.3 303.4 L489.3 177.8 Z" fill="#1fbfad"/>
<path d="M457.3 177.8 L456.4 187.6 L455.0 200.0 L453.5 209.0 L450.0 218.5 L445.5 226.0 L441.5 233.5 L440.0 241.0 L441.5 250.0 L442.5 258.0 L443.4 265.0 L444.5 275.9 L446.6 286.8 L447.7 295.5 L448.8 303.4 L489.3 303.4 L489.3 177.8 Z" fill="#5ac978"/>
<path d="M467.8 177.8 L469.6 191.0 L467.0 200.0 L463.2 208.7 L458.8 217.4 L454.5 226.0 L451.0 236.0 L449.7 247.8 L449.5 260.0 L450.0 265.0 L452.1 275.9 L455.4 286.8 L458.6 295.5 L460.8 303.4 L489.3 303.4 L489.3 177.8 Z" fill="#b0c838"/>
<path d="M489.3 202.5 L485.5 205.5 L480.0 212.5 L470.0 219.0 L463.0 225.3 L459.0 234.0 L456.2 247.8 L456.7 260.9 L457.5 265.0 L460.8 275.9 L466.3 284.6 L471.7 291.2 L474.0 296.0 L476.0 303.4 L489.3 303.4 Z" fill="#f6b830"/>
<path d="M489.3 218.8 L482.0 220.3 L473.3 224.6 L467.5 231.9 L465.4 240.6 L464.6 252.2 L466.1 262.3 L467.5 270.0 L470.0 274.0 L476.0 278.0 L482.0 282.4 L489.3 287.0 Z" fill="#fad620"/>
<path d="M489.3 231.9 L484.9 236.2 L482.8 243.5 L482.8 255.1 L484.2 263.8 L487.8 270.0 L489.3 272.0 Z" fill="#fae919"/>
<path d="M295.0 177.8 L298.5 177.8 L302.9 184.1 L304.7 192.9 L302.9 199.9 L298.5 205.2 L295.0 207.9 Z M328.5 177.8 L332.0 184.1 L333.8 191.1 L332.9 199.9 L328.5 207.0 L321.5 214.0 L312.6 219.3 L303.8 224.6 L295.0 229.9 L295.0 271.4 L302.5 278.1 L310.1 284.8 L317.8 293.3 L324.4 300.0 L326.3 303.4 L489.3 303.4 L489.3 177.8 Z M355.8 177.8 L359.4 185.8 L361.1 194.6 L358.5 205.2 L351.4 212.3 L342.6 217.6 L333.8 224.6 L326.7 231.7 L318.0 241.0 L315.3 248.1 L316.5 256.0 L317.8 260.0 L320.6 267.6 L326.3 275.2 L333.0 281.9 L338.7 287.6 L343.5 292.0 L346.5 296.0 L349.7 303.4 L489.3 303.4 L489.3 177.8 Z M384.1 177.8 L385.8 187.6 L385.0 199.9 L381.4 210.5 L374.4 217.6 L365.5 222.9 L358.5 229.9 L348.0 237.0 L341.0 243.0 L339.5 248.1 L342.6 258.6 L347.9 269.2 L356.7 278.0 L365.5 286.9 L370.8 293.9 L376.1 303.4 L489.3 303.4 L489.3 177.8 Z M439.7 177.8 L439.7 195.0 L439.7 199.4 L438.6 205.9 L436.5 212.5 L433.2 216.8 L425.5 214.6 L416.8 210.3 L405.9 204.8 L395.0 212.5 L392.0 215.8 L383.2 222.9 L374.4 229.9 L369.1 237.0 L366.0 245.0 L363.8 253.3 L367.3 263.9 L374.4 272.7 L383.2 279.8 L390.2 286.9 L394.0 290.4 L406.1 293.6 L415.0 296.6 L423.7 293.4 L433.0 289.5 L435.2 293.4 L436.8 303.4 L489.3 303.4 L489.3 177.8 Z M449.0 177.8 L450.6 195.0 L449.5 200.5 L446.3 208.1 L440.8 216.8 L437.5 224.5 L435.4 231.0 L433.2 237.0 L425.5 231.0 L416.8 226.6 L405.9 221.7 L395.0 228.8 L390.0 234.0 L387.5 241.0 L386.0 251.6 L388.5 263.9 L392.0 270.0 L406.1 282.0 L415.0 279.2 L420.2 275.4 L431.4 265.0 L433.3 261.0 L434.6 265.0 L435.7 275.9 L437.9 286.8 L440.1 295.5 L441.2 303.4 L489.3 303.4 L489.3 177.8 Z M457.3 177.8 L456.4 187.6 L455.0 200.0 L453.5 209.0 L450.0 218.5 L445.5 226.0 L441.5 233.5 L440.0 241.0 L441.5 250.0 L442.5 258.0 L443.4 265.0 L444.5 275.9 L446.6 286.8 L447.7 295.5 L448.8 303.4 L489.3 303.4 L489.3 177.8 Z M467.8 177.8 L469.6 191.0 L467.0 200.0 L463.2 208.7 L458.8 217.4 L454.5 226.0 L451.0 236.0 L449.7 247.8 L449.5 260.0 L450.0 265.0 L452.1 275.9 L455.4 286.8 L458.6 295.5 L460.8 303.4 L489.3 303.4 L489.3 177.8 Z M489.3 202.5 L485.5 205.5 L480.0 212.5 L470.0 219.0 L463.0 225.3 L459.0 234.0 L456.2 247.8 L456.7 260.9 L457.5 265.0 L460.8 275.9 L466.3 284.6 L471.7 291.2 L474.0 296.0 L476.0 303.4 L489.3 303.4 Z M489.3 218.8 L482.0 220.3 L473.3 224.6 L467.5 231.9 L465.4 240.6 L464.6 252.2 L466.1 262.3 L467.5 270.0 L470.0 274.0 L476.0 278.0 L482.0 282.4 L489.3 287.0 Z M489.3 231.9 L484.9 236.2 L482.8 243.5 L482.8 255.1 L484.2 263.8 L487.8 270.0 L489.3 272.0 Z" fill="none" stroke="#1a1a1a" stroke-opacity="0.55" stroke-width="0.5"/>
<text x="302.1" y="198.2" transform="rotate(-60 302.1 198.2)" font-family="Liberation Sans, sans-serif" font-size="5.7" fill="#fff" fill-opacity="0.92" text-anchor="middle" dominant-baseline="central">1.2</text>
<text x="309.8" y="221.1" transform="rotate(-45 309.8 221.1)" font-family="Liberation Sans, sans-serif" font-size="5.7" fill="#fff" fill-opacity="0.92" text-anchor="middle" dominant-baseline="central">1.4</text>
<text x="351.4" y="208.7" transform="rotate(-45 351.4 208.7)" font-family="Liberation Sans, sans-serif" font-size="5.7" fill="#fff" fill-opacity="0.92" text-anchor="middle" dominant-baseline="central">1.6</text>
<text x="376.1" y="210.5" transform="rotate(-45 376.1 210.5)" font-family="Liberation Sans, sans-serif" font-size="5.7" fill="#fff" fill-opacity="0.92" text-anchor="middle" dominant-baseline="central">1.8</text>
<text x="395.5" y="214.0" transform="rotate(-45 395.5 214.0)" font-family="Liberation Sans, sans-serif" font-size="5.7" fill="#fff" fill-opacity="0.92" text-anchor="middle" dominant-baseline="central">2</text>
<text x="437.9" y="208.0" transform="rotate(-70 437.9 208.0)" font-family="Liberation Sans, sans-serif" font-size="5.7" fill="#fff" fill-opacity="0.92" text-anchor="middle" dominant-baseline="central">2</text>
<text x="448.4" y="198.2" transform="rotate(-80 448.4 198.2)" font-family="Liberation Sans, sans-serif" font-size="5.7" fill="#fff" fill-opacity="0.92" text-anchor="middle" dominant-baseline="central">2.2</text>
<text x="456.6" y="191.1" transform="rotate(-90 456.6 191.1)" font-family="Liberation Sans, sans-serif" font-size="5.7" fill="#fff" fill-opacity="0.92" text-anchor="middle" dominant-baseline="central">2.4</text>
<text x="467.8" y="191.8" transform="rotate(-90 467.8 191.8)" font-family="Liberation Sans, sans-serif" font-size="5.7" fill="#fff" fill-opacity="0.92" text-anchor="middle" dominant-baseline="central">2.6</text>
<text x="480.2" y="210.5" transform="rotate(-50 480.2 210.5)" font-family="Liberation Sans, sans-serif" font-size="5.7" fill="#fff" fill-opacity="0.92" text-anchor="middle" dominant-baseline="central">2.8</text>
<text x="422.0" y="229.9" transform="rotate(0 422.0 229.9)" font-family="Liberation Sans, sans-serif" font-size="5.7" fill="#fff" fill-opacity="0.92" text-anchor="middle" dominant-baseline="central">2.2</text>
<text x="316.2" y="247.5" transform="rotate(90 316.2 247.5)" font-family="Liberation Sans, sans-serif" font-size="5.7" fill="#fff" fill-opacity="0.92" text-anchor="middle" dominant-baseline="central">1.6</text>
<text x="340.9" y="247.5" transform="rotate(90 340.9 247.5)" font-family="Liberation Sans, sans-serif" font-size="5.7" fill="#fff" fill-opacity="0.92" text-anchor="middle" dominant-baseline="central">1.8</text>
<text x="363.8" y="252.8" transform="rotate(80 363.8 252.8)" font-family="Liberation Sans, sans-serif" font-size="5.7" fill="#fff" fill-opacity="0.92" text-anchor="middle" dominant-baseline="central">2</text>
<text x="386.7" y="249.3" transform="rotate(90 386.7 249.3)" font-family="Liberation Sans, sans-serif" font-size="5.7" fill="#fff" fill-opacity="0.92" text-anchor="middle" dominant-baseline="central">2.2</text>
<text x="439.6" y="243.3" transform="rotate(90 439.6 243.3)" font-family="Liberation Sans, sans-serif" font-size="5.7" fill="#fff" fill-opacity="0.92" text-anchor="middle" dominant-baseline="central">2.4</text>
<text x="447.4" y="240.5" transform="rotate(90 447.4 240.5)" font-family="Liberation Sans, sans-serif" font-size="5.7" fill="#fff" fill-opacity="0.92" text-anchor="middle" dominant-baseline="central">2.6</text>
<text x="455.5" y="254.6" transform="rotate(90 455.5 254.6)" font-family="Liberation Sans, sans-serif" font-size="5.7" fill="#fff" fill-opacity="0.92" text-anchor="middle" dominant-baseline="central">2.8</text>
<text x="469.6" y="235.2" transform="rotate(0 469.6 235.2)" font-family="Liberation Sans, sans-serif" font-size="5.7" fill="#fff" fill-opacity="0.92" text-anchor="middle" dominant-baseline="central">3</text>
<text x="480.2" y="258.1" transform="rotate(-90 480.2 258.1)" font-family="Liberation Sans, sans-serif" font-size="5.7" fill="#fff" fill-opacity="0.92" text-anchor="middle" dominant-baseline="central">3</text>
<text x="418.5" y="277.5" transform="rotate(-30 418.5 277.5)" font-family="Liberation Sans, sans-serif" font-size="5.7" fill="#fff" fill-opacity="0.92" text-anchor="middle" dominant-baseline="central">2.2</text>
<text x="317.9" y="291.6" transform="rotate(45 317.9 291.6)" font-family="Liberation Sans, sans-serif" font-size="5.7" fill="#fff" fill-opacity="0.92" text-anchor="middle" dominant-baseline="central">1.4</text>
<text x="344.4" y="293.4" transform="rotate(45 344.4 293.4)" font-family="Liberation Sans, sans-serif" font-size="5.7" fill="#fff" fill-opacity="0.92" text-anchor="middle" dominant-baseline="central">1.6</text>
<text x="369.1" y="293.4" transform="rotate(45 369.1 293.4)" font-family="Liberation Sans, sans-serif" font-size="5.7" fill="#fff" fill-opacity="0.92" text-anchor="middle" dominant-baseline="central">1.8</text>
<text x="395.5" y="296.9" transform="rotate(30 395.5 296.9)" font-family="Liberation Sans, sans-serif" font-size="5.7" fill="#fff" fill-opacity="0.92" text-anchor="middle" dominant-baseline="central">2</text>
<text x="434.3" y="293.4" transform="rotate(0 434.3 293.4)" font-family="Liberation Sans, sans-serif" font-size="5.7" fill="#fff" fill-opacity="0.92" text-anchor="middle" dominant-baseline="central">2</text>
<text x="442.4" y="290.6" transform="rotate(60 442.4 290.6)" font-family="Liberation Sans, sans-serif" font-size="5.7" fill="#fff" fill-opacity="0.92" text-anchor="middle" dominant-baseline="central">2.2</text>
<text x="462.5" y="295.2" transform="rotate(45 462.5 295.2)" font-family="Liberation Sans, sans-serif" font-size="5.7" fill="#fff" fill-opacity="0.92" text-anchor="middle" dominant-baseline="central">2.6</text>
<text x="480.2" y="282.8" transform="rotate(-60 480.2 282.8)" font-family="Liberation Sans, sans-serif" font-size="5.7" fill="#fff" fill-opacity="0.92" text-anchor="middle" dominant-baseline="central">3</text>
</g>
<rect x="295.0" y="177.8" width="194.3" height="125.8" fill="none" stroke="#262626" stroke-width="0.6"/>
<path d="M295.0 177.8 v1.6 M295.0 303.6 v-1.6 M322.8 177.8 v1.6 M322.8 303.6 v-1.6 M350.5 177.8 v1.6 M350.5 303.6 v-1.6 M378.3 177.8 v1.6 M378.3 303.6 v-1.6 M406.0 177.8 v1.6 M406.0 303.6 v-1.6 M433.8 177.8 v1.6 M433.8 303.6 v-1.6 M461.5 177.8 v1.6 M461.5 303.6 v-1.6 M489.3 177.8 v1.6 M489.3 303.6 v-1.6 M295.0 177.8 h1.6 M489.3 177.8 h-1.6 M295.0 209.2 h1.6 M489.3 209.2 h-1.6 M295.0 240.7 h1.6 M489.3 240.7 h-1.6 M295.0 272.1 h1.6 M489.3 272.1 h-1.6 M295.0 303.6 h1.6 M489.3 303.6 h-1.6" stroke="#262626" stroke-width="0.5" fill="none"/>
<rect x="498.2" y="177.8" width="6.1" height="125.8" fill="url(#cb)"/>
<rect x="498.2" y="177.8" width="6.1" height="125.8" fill="none" stroke="#262626" stroke-width="0.3" stroke-opacity="0.4"/>
<g clip-path="url(#cpe)">
<rect x="27.0" y="331.1" width="194.0" height="126.2" fill="#465af5"/>
<path d="M27.0 340.2 L60.0 339.5 L85.0 340.5 L110.5 338.6 L118.1 340.5 L143.5 346.9 L135.9 350.7 L116.8 350.1 L97.7 347.5 L85.0 345.6 L67.6 345.8 L27.0 347.2 Z" fill="#3e26a8"/>
<path d="M27.0 355.7 L60.0 355.5 L85.0 355.2 L93.9 357.1 L85.0 358.4 L60.0 359.5 L27.0 360.1 Z" fill="#3e26a8"/>
<path d="M97.7 360.9 L110.5 359.6 L119.4 362.6 L104.1 364.7 Z" fill="#3e26a8"/>
<path d="M121.9 357.1 L135.9 353.3 L144.8 357.1 L135.9 359.0 Z" fill="#3e26a8"/>
<path d="M129.5 336.3 L135.9 335.0 L139.7 337.0 Z" fill="#3e26a8"/>
<path d="M188.7 331.2 L221.0 331.2 L221.0 362.6 L211.9 362.6 L192.6 361.3 L183.5 355.5 L178.4 349.1 L181.0 344.0 L199.0 341.1 L187.4 336.8 Z" fill="#3e26a8"/>
<path d="M217.5 362.0 L221.0 362.0 L221.0 370.0 L218.5 369.0 Z" fill="#3e26a8"/>
<path d="M27.0 375.5 L43.0 374.0 L46.5 368.0 L58.0 368.0 L61.0 371.0 L80.0 371.5 L97.5 374.0 L110.0 376.0 L124.0 377.5 L137.0 375.0 L140.5 368.5 L150.0 367.1 L162.9 364.5 L176.5 365.0 L186.5 368.0 L199.0 372.3 L208.1 375.5 L221.0 376.5 L221.0 444.3 L194.5 449.0 L190.0 452.3 L176.4 454.1 L162.7 455.9 L149.1 454.1 L140.0 451.4 L124.0 448.7 L106.4 450.4 L79.9 452.2 L53.5 450.4 L27.0 447.8 Z" fill="#15a0dc"/>
<path d="M160.3 331.2 L170.6 331.2 L165.5 333.8 Z" fill="#15a0dc"/>
<path d="M155.2 342.2 L165.5 339.4 L164.2 342.6 Z" fill="#15a0dc"/>
<path d="M27.0 383.9 L62.3 384.8 L97.5 383.0 L124.0 385.0 L146.9 383.0 L159.3 379.5 L165.5 376.0 L155.0 369.5 L155.7 367.5 L176.0 367.2 L169.9 375.1 L171.6 376.9 L176.9 380.4 L200.0 381.0 L221.0 380.4 L221.0 435.5 L203.4 441.0 L190.0 445.0 L178.2 446.8 L173.6 448.6 L167.3 454.5 L163.6 454.1 L158.2 451.4 L156.4 445.9 L158.2 440.5 L172.7 436.4 L150.5 434.0 L124.0 432.4 L83.4 429.3 L53.5 431.0 L27.0 428.4 Z" fill="#40c88c"/>
<path d="M57.0 431.6 L80.0 430.7 L96.0 436.0 L80.0 436.9 L67.6 434.2 Z" fill="#40c88c"/>
<path d="M77.3 373.8 L81.0 372.4 L85.2 373.5 L81.0 374.7 Z" fill="#40c88c"/>
<path d="M27.0 392.5 L33.5 395.0 L27.0 397.0 Z" fill="#15a0dc"/>
<path d="M129.3 441.8 L135.0 440.5 L139.9 441.5 L135.0 442.8 Z" fill="#465af5"/>
<path d="M52.0 394.2 L57.0 392.8 L64.0 393.5 L60.0 395.8 Z" fill="#efb534"/>
<path d="M80.8 405.5 L102.8 397.5 L124.0 396.8 L131.0 399.5 L128.0 402.5 L124.0 405.0 L105.0 405.8 Z" fill="#efb534"/>
<path d="M124.0 412.5 L134.6 409.9 L140.8 401.9 L146.9 396.5 L152.0 393.5 L158.0 392.0 L170.0 391.0 L190.0 391.5 L200.0 393.0 L210.0 392.5 L221.0 392.7 L221.0 414.3 L199.8 410.8 L189.3 409.9 L182.2 416.0 L173.4 420.5 L159.3 422.2 L146.9 420.5 L134.6 417.8 L124.0 417.0 L119.0 415.5 Z" fill="#efb534"/>
<path d="M188.5 435.5 L193.7 433.5 L199.0 435.5 L193.7 437.5 Z" fill="#efb534"/>
<path d="M134.6 415.7 L150.0 408.0 L166.3 399.8 L175.1 406.8 L174.0 411.6 L168.0 415.7 L150.5 416.9 Z" fill="#faf514"/>
<path d="M27.0 340.2 L60.0 339.5 L85.0 340.5 L110.5 338.6 L118.1 340.5 L143.5 346.9 L135.9 350.7 L116.8 350.1 L97.7 347.5 L85.0 345.6 L67.6 345.8 L27.0 347.2 Z M27.0 355.7 L60.0 355.5 L85.0 355.2 L93.9 357.1 L85.0 358.4 L60.0 359.5 L27.0 360.1 Z M97.7 360.9 L110.5 359.6 L119.4 362.6 L104.1 364.7 Z M121.9 357.1 L135.9 353.3 L144.8 357.1 L135.9 359.0 Z M129.5 336.3 L135.9 335.0 L139.7 337.0 Z M188.7 331.2 L221.0 331.2 L221.0 362.6 L211.9 362.6 L192.6 361.3 L183.5 355.5 L178.4 349.1 L181.0 344.0 L199.0 341.1 L187.4 336.8 Z M217.5 362.0 L221.0 362.0 L221.0 370.0 L218.5 369.0 Z M27.0 375.5 L43.0 374.0 L46.5 368.0 L58.0 368.0 L61.0 371.0 L80.0 371.5 L97.5 374.0 L110.0 376.0 L124.0 377.5 L137.0 375.0 L140.5 368.5 L150.0 367.1 L162.9 364.5 L176.5 365.0 L186.5 368.0 L199.0 372.3 L208.1 375.5 L221.0 376.5 L221.0 444.3 L194.5 449.0 L190.0 452.3 L176.4 454.1 L162.7 455.9 L149.1 454.1 L140.0 451.4 L124.0 448.7 L106.4 450.4 L79.9 452.2 L53.5 450.4 L27.0 447.8 Z M160.3 331.2 L170.6 331.2 L165.5 333.8 Z M155.2 342.2 L165.5 339.4 L164.2 342.6 Z M27.0 383.9 L62.3 384.8 L97.5 383.0 L124.0 385.0 L146.9 383.0 L159.3 379.5 L165.5 376.0 L155.0 369.5 L155.7 367.5 L176.0 367.2 L169.9 375.1 L171.6 376.9 L176.9 380.4 L200.0 381.0 L221.0 380.4 L221.0 435.5 L203.4 441.0 L190.0 445.0 L178.2 446.8 L173.6 448.6 L167.3 454.5 L163.6 454.1 L158.2 451.4 L156.4 445.9 L158.2 440.5 L172.7 436.4 L150.5 434.0 L124.0 432.4 L83.4 429.3 L53.5 431.0 L27.0 428.4 Z M57.0 431.6 L80.0 430.7 L96.0 436.0 L80.0 436.9 L67.6 434.2 Z M77.3 373.8 L81.0 372.4 L85.2 373.5 L81.0 374.7 Z M27.0 392.5 L33.5 395.0 L27.0 397.0 Z M129.3 441.8 L135.0 440.5 L139.9 441.5 L135.0 442.8 Z M52.0 394.2 L57.0 392.8 L64.0 393.5 L60.0 395.8 Z M80.8 405.5 L102.8 397.5 L124.0 396.8 L131.0 399.5 L128.0 402.5 L124.0 405.0 L105.0 405.8 Z M124.0 412.5 L134.6 409.9 L140.8 401.9 L146.9 396.5 L152.0 393.5 L158.0 392.0 L170.0 391.0 L190.0 391.5 L200.0 393.0 L210.0 392.5 L221.0 392.7 L221.0 414.3 L199.8 410.8 L189.3 409.9 L182.2 416.0 L173.4 420.5 L159.3 422.2 L146.9 420.5 L134.6 417.8 L124.0 417.0 L119.0 415.5 Z M188.5 435.5 L193.7 433.5 L199.0 435.5 L193.7 437.5 Z M134.6 415.7 L150.0 408.0 L166.3 399.8 L175.1 406.8 L174.0 411.6 L168.0 415.7 L150.5 416.9 Z" fill="none" stroke="#1a1a1a" stroke-opacity="0.55" stroke-width="0.5"/>
<text x="48.9" y="345.1" transform="rotate(0 48.9 345.1)" font-family="Liberation Sans, sans-serif" font-size="6.7" fill="#fff" fill-opacity="0.92" text-anchor="middle" dominant-baseline="central">1.05</text>
<text x="75.7" y="340.9" transform="rotate(0 75.7 340.9)" font-family="Liberation Sans, sans-serif" font-size="6.7" fill="#fff" fill-opacity="0.92" text-anchor="middle" dominant-baseline="central">1.05</text>
<text x="103.9" y="349.3" transform="rotate(0 103.9 349.3)" font-family="Liberation Sans, sans-serif" font-size="6.7" fill="#fff" fill-opacity="0.92" text-anchor="middle" dominant-baseline="central">1.05</text>
<text x="130.4" y="345.1" transform="rotate(0 130.4 345.1)" font-family="Liberation Sans, sans-serif" font-size="6.7" fill="#fff" fill-opacity="0.92" text-anchor="middle" dominant-baseline="central">1.05</text>
<text x="51.0" y="359.9" transform="rotate(0 51.0 359.9)" font-family="Liberation Sans, sans-serif" font-size="6.7" fill="#fff" fill-opacity="0.92" text-anchor="middle" dominant-baseline="central">1.05</text>
<text x="83.4" y="356.4" transform="rotate(0 83.4 356.4)" font-family="Liberation Sans, sans-serif" font-size="6.7" fill="#fff" fill-opacity="0.92" text-anchor="middle" dominant-baseline="central">1.05</text>
<text x="103.9" y="362.0" transform="rotate(0 103.9 362.0)" font-family="Liberation Sans, sans-serif" font-size="6.7" fill="#fff" fill-opacity="0.92" text-anchor="middle" dominant-baseline="central">1.05</text>
<text x="129.3" y="355.0" transform="rotate(0 129.3 355.0)" font-family="Liberation Sans, sans-serif" font-size="6.7" fill="#fff" fill-opacity="0.92" text-anchor="middle" dominant-baseline="central">1.05</text>
<text x="166.3" y="341.6" transform="rotate(0 166.3 341.6)" font-family="Liberation Sans, sans-serif" font-size="6.7" fill="#fff" fill-opacity="0.92" text-anchor="middle" dominant-baseline="central">1.1</text>
<text x="178.7" y="352.2" transform="rotate(90 178.7 352.2)" font-family="Liberation Sans, sans-serif" font-size="6.7" fill="#fff" fill-opacity="0.92" text-anchor="middle" dominant-baseline="central">1.05</text>
<text x="198.1" y="334.5" transform="rotate(0 198.1 334.5)" font-family="Liberation Sans, sans-serif" font-size="6.7" fill="#fff" fill-opacity="0.92" text-anchor="middle" dominant-baseline="central">1.05</text>
<text x="76.4" y="369.1" transform="rotate(0 76.4 369.1)" font-family="Liberation Sans, sans-serif" font-size="6.7" fill="#fff" fill-opacity="0.92" text-anchor="middle" dominant-baseline="central">1.1</text>
<text x="48.2" y="376.9" transform="rotate(0 48.2 376.9)" font-family="Liberation Sans, sans-serif" font-size="6.7" fill="#fff" fill-opacity="0.92" text-anchor="middle" dominant-baseline="central">1.1</text>
<text x="48.2" y="386.7" transform="rotate(0 48.2 386.7)" font-family="Liberation Sans, sans-serif" font-size="6.7" fill="#fff" fill-opacity="0.92" text-anchor="middle" dominant-baseline="central">1.15</text>
<text x="129.3" y="379.7" transform="rotate(0 129.3 379.7)" font-family="Liberation Sans, sans-serif" font-size="6.7" fill="#fff" fill-opacity="0.92" text-anchor="middle" dominant-baseline="central">1.1</text>
<text x="103.9" y="383.9" transform="rotate(0 103.9 383.9)" font-family="Liberation Sans, sans-serif" font-size="6.7" fill="#fff" fill-opacity="0.92" text-anchor="middle" dominant-baseline="central">1.15</text>
<text x="157.5" y="375.1" transform="rotate(60 157.5 375.1)" font-family="Liberation Sans, sans-serif" font-size="6.7" fill="#fff" fill-opacity="0.92" text-anchor="middle" dominant-baseline="central">1.15</text>
<text x="170.9" y="365.6" transform="rotate(0 170.9 365.6)" font-family="Liberation Sans, sans-serif" font-size="6.7" fill="#fff" fill-opacity="0.92" text-anchor="middle" dominant-baseline="central">1.1</text>
<text x="175.1" y="379.7" transform="rotate(50 175.1 379.7)" font-family="Liberation Sans, sans-serif" font-size="6.7" fill="#fff" fill-opacity="0.92" text-anchor="middle" dominant-baseline="central">1.15</text>
<text x="156.8" y="390.3" transform="rotate(0 156.8 390.3)" font-family="Liberation Sans, sans-serif" font-size="6.7" fill="#fff" fill-opacity="0.92" text-anchor="middle" dominant-baseline="central">1.15</text>
<text x="181.5" y="392.7" transform="rotate(0 181.5 392.7)" font-family="Liberation Sans, sans-serif" font-size="6.7" fill="#fff" fill-opacity="0.92" text-anchor="middle" dominant-baseline="central">1.2</text>
<text x="62.3" y="395.2" transform="rotate(0 62.3 395.2)" font-family="Liberation Sans, sans-serif" font-size="6.7" fill="#fff" fill-opacity="0.92" text-anchor="middle" dominant-baseline="central">1.2</text>
<text x="95.8" y="399.8" transform="rotate(0 95.8 399.8)" font-family="Liberation Sans, sans-serif" font-size="6.7" fill="#fff" fill-opacity="0.92" text-anchor="middle" dominant-baseline="central">1.2</text>
<text x="115.2" y="405.1" transform="rotate(0 115.2 405.1)" font-family="Liberation Sans, sans-serif" font-size="6.7" fill="#fff" fill-opacity="0.92" text-anchor="middle" dominant-baseline="central">1.2</text>
<text x="139.9" y="407.9" transform="rotate(-30 139.9 407.9)" font-family="Liberation Sans, sans-serif" font-size="6.7" fill="#fff" fill-opacity="0.92" text-anchor="middle" dominant-baseline="central">1.2</text>
<text x="148.7" y="408.6" transform="rotate(-30 148.7 408.6)" font-family="Liberation Sans, sans-serif" font-size="6.7" fill="#fff" fill-opacity="0.92" text-anchor="middle" dominant-baseline="central">1.25</text>
<text x="164.6" y="415.7" transform="rotate(0 164.6 415.7)" font-family="Liberation Sans, sans-serif" font-size="6.7" fill="#fff" fill-opacity="0.92" text-anchor="middle" dominant-baseline="central">1.25</text>
<text x="152.2" y="422.0" transform="rotate(0 152.2 422.0)" font-family="Liberation Sans, sans-serif" font-size="6.7" fill="#fff" fill-opacity="0.92" text-anchor="middle" dominant-baseline="central">1.2</text>
<text x="203.4" y="412.8" transform="rotate(0 203.4 412.8)" font-family="Liberation Sans, sans-serif" font-size="6.7" fill="#fff" fill-opacity="0.92" text-anchor="middle" dominant-baseline="central">1.2</text>
<text x="58.7" y="436.1" transform="rotate(20 58.7 436.1)" font-family="Liberation Sans, sans-serif" font-size="6.7" fill="#fff" fill-opacity="0.92" text-anchor="middle" dominant-baseline="central">1.15</text>
<text x="83.4" y="436.1" transform="rotate(0 83.4 436.1)" font-family="Liberation Sans, sans-serif" font-size="6.7" fill="#fff" fill-opacity="0.92" text-anchor="middle" dominant-baseline="central">1.15</text>
<text x="88.7" y="430.8" transform="rotate(0 88.7 430.8)" font-family="Liberation Sans, sans-serif" font-size="6.7" fill="#fff" fill-opacity="0.92" text-anchor="middle" dominant-baseline="central">1.15</text>
<text x="143.4" y="435.1" transform="rotate(0 143.4 435.1)" font-family="Liberation Sans, sans-serif" font-size="6.7" fill="#fff" fill-opacity="0.92" text-anchor="middle" dominant-baseline="central">1.15</text>
<text x="155.7" y="443.9" transform="rotate(-80 155.7 443.9)" font-family="Liberation Sans, sans-serif" font-size="6.7" fill="#fff" fill-opacity="0.92" text-anchor="middle" dominant-baseline="central">1.15</text>
<text x="203.4" y="443.2" transform="rotate(0 203.4 443.2)" font-family="Liberation Sans, sans-serif" font-size="6.7" fill="#fff" fill-opacity="0.92" text-anchor="middle" dominant-baseline="central">1.15</text>
<text x="205.1" y="447.4" transform="rotate(0 205.1 447.4)" font-family="Liberation Sans, sans-serif" font-size="6.7" fill="#fff" fill-opacity="0.92" text-anchor="middle" dominant-baseline="central">1.1</text>
<text x="79.9" y="453.8" transform="rotate(0 79.9 453.8)" font-family="Liberation Sans, sans-serif" font-size="6.7" fill="#fff" fill-opacity="0.92" text-anchor="middle" dominant-baseline="central">1.1</text>
<text x="134.6" y="443.9" transform="rotate(0 134.6 443.9)" font-family="Liberation Sans, sans-serif" font-size="6.7" fill="#fff" fill-opacity="0.92" text-anchor="middle" dominant-baseline="central">1.1</text>
</g>
<rect x="27.0" y="331.1" width="194.0" height="126.2" fill="none" stroke="#262626" stroke-width="0.6"/>
<path d="M27.0 331.1 v1.6 M27.0 457.3 v-1.6 M54.7 331.1 v1.6 M54.7 457.3 v-1.6 M82.4 331.1 v1.6 M82.4 457.3 v-1.6 M110.1 331.1 v1.6 M110.1 457.3 v-1.6 M137.9 331.1 v1.6 M137.9 457.3 v-1.6 M165.6 331.1 v1.6 M165.6 457.3 v-1.6 M193.3 331.1 v1.6 M193.3 457.3 v-1.6 M221.0 331.1 v1.6 M221.0 457.3 v-1.6 M27.0 331.1 h1.6 M221.0 331.1 h-1.6 M27.0 362.7 h1.6 M221.0 362.7 h-1.6 M27.0 394.2 h1.6 M221.0 394.2 h-1.6 M27.0 425.8 h1.6 M221.0 425.8 h-1.6 M27.0 457.3 h1.6 M221.0 457.3 h-1.6" stroke="#262626" stroke-width="0.5" fill="none"/>
<rect x="230.3" y="331.1" width="6.1" height="126.2" fill="url(#cb)"/>
<rect x="230.3" y="331.1" width="6.1" height="126.2" fill="none" stroke="#262626" stroke-width="0.3" stroke-opacity="0.4"/>
<g clip-path="url(#cpf)">
<rect x="295.0" y="331.1" width="194.3" height="126.2" fill="#2e80f7"/>
<path d="M295.0 331.2 L451.4 331.2 L453.6 341.0 L460.0 347.4 L468.6 351.0 L477.1 351.7 L472.9 357.4 L482.9 360.3 L489.3 359.6 L489.3 366.7 L477.1 369.6 L465.7 371.0 L455.7 373.9 L448.6 381.0 L442.9 388.1 L438.7 396.0 L436.0 403.0 L434.5 410.9 L432.6 415.2 L430.8 409.9 L427.3 402.0 L420.5 396.0 L416.4 389.1 L403.6 387.3 L385.5 390.9 L370.9 396.4 L358.2 401.8 L347.9 405.5 L321.5 409.9 L295.0 410.8 Z" fill="#02b2ce"/>
<path d="M295.0 436.3 L321.5 436.3 L347.9 443.4 L369.1 445.1 L392.0 446.5 L399.1 452.2 L402.6 457.3 L295.0 457.3 Z" fill="#02b2ce"/>
<path d="M406.1 457.3 L413.2 445.1 L432.6 438.1 L444.9 445.1 L448.4 457.3 Z" fill="#02b2ce"/>
<path d="M295.0 331.2 L352.7 331.2 L358.0 334.5 L372.7 338.1 L376.4 347.4 L420.0 346.8 L404.0 343.5 L389.0 341.4 L404.0 339.5 L418.0 337.0 L430.0 334.5 L432.0 331.2 L435.5 331.2 L438.6 336.7 L445.7 345.3 L448.6 352.4 L456.4 361.7 L452.9 366.7 L445.7 372.4 L440.0 378.1 L436.4 384.5 L427.3 383.6 L425.5 377.3 L412.7 374.5 L394.5 375.5 L376.4 377.3 L358.2 380.0 L340.0 381.8 L321.5 387.4 L295.0 391.0 Z" fill="#64c971"/>
<path d="M295.0 450.4 L330.3 451.3 L340.9 457.3 L295.0 457.3 Z" fill="#64c971"/>
<path d="M430.8 457.3 L433.5 454.0 L436.1 457.3 Z" fill="#64c971"/>
<path d="M295.0 346.0 L321.5 347.2 L347.9 348.6 L358.2 349.0 L374.0 352.4 L341.7 357.5 L360.0 362.0 L380.5 368.0 L369.1 371.6 L347.9 374.2 L321.5 376.0 L295.0 381.3 Z" fill="#f6b731"/>
<path d="M418.5 366.3 L422.9 361.0 L436.1 360.1 L441.4 364.5 L439.6 368.0 L432.6 371.2 L419.3 368.9 Z" fill="#f6b731"/>
<path d="M425.5 351.5 L434.5 350.3 L433.5 355.0 Z" fill="#f6b731"/>
<path d="M295.0 351.3 L305.6 352.6 L295.0 354.0 Z" fill="#faf514"/>
<path d="M305.6 362.8 L317.0 361.8 L328.5 362.7 L317.0 363.6 Z" fill="#faf514"/>
<path d="M489.3 373.9 L477.1 379.6 L465.7 385.3 L458.6 391.0 L454.0 397.0 L452.0 402.8 L444.9 415.2 L443.1 422.2 L450.2 431.0 L459.0 441.6 L469.6 450.4 L480.2 457.3 L489.3 457.3 Z" fill="#463cda"/>
<path d="M358.5 420.5 L375.0 417.5 L392.0 416.9 L408.0 418.5 L420.2 420.5 L407.9 429.0 L392.0 430.0 L375.0 425.0 Z" fill="#463cda"/>
<path d="M460.8 420.9 L476.7 416.0 L483.7 409.9 L489.3 404.6 L489.3 438.1 L474.9 429.3 Z" fill="#3e26a8"/>
<path d="M295.0 331.2 L451.4 331.2 L453.6 341.0 L460.0 347.4 L468.6 351.0 L477.1 351.7 L472.9 357.4 L482.9 360.3 L489.3 359.6 L489.3 366.7 L477.1 369.6 L465.7 371.0 L455.7 373.9 L448.6 381.0 L442.9 388.1 L438.7 396.0 L436.0 403.0 L434.5 410.9 L432.6 415.2 L430.8 409.9 L427.3 402.0 L420.5 396.0 L416.4 389.1 L403.6 387.3 L385.5 390.9 L370.9 396.4 L358.2 401.8 L347.9 405.5 L321.5 409.9 L295.0 410.8 Z M295.0 436.3 L321.5 436.3 L347.9 443.4 L369.1 445.1 L392.0 446.5 L399.1 452.2 L402.6 457.3 L295.0 457.3 Z M406.1 457.3 L413.2 445.1 L432.6 438.1 L444.9 445.1 L448.4 457.3 Z M295.0 331.2 L352.7 331.2 L358.0 334.5 L372.7 338.1 L376.4 347.4 L420.0 346.8 L404.0 343.5 L389.0 341.4 L404.0 339.5 L418.0 337.0 L430.0 334.5 L432.0 331.2 L435.5 331.2 L438.6 336.7 L445.7 345.3 L448.6 352.4 L456.4 361.7 L452.9 366.7 L445.7 372.4 L440.0 378.1 L436.4 384.5 L427.3 383.6 L425.5 377.3 L412.7 374.5 L394.5 375.5 L376.4 377.3 L358.2 380.0 L340.0 381.8 L321.5 387.4 L295.0 391.0 Z M295.0 450.4 L330.3 451.3 L340.9 457.3 L295.0 457.3 Z M430.8 457.3 L433.5 454.0 L436.1 457.3 Z M295.0 346.0 L321.5 347.2 L347.9 348.6 L358.2 349.0 L374.0 352.4 L341.7 357.5 L360.0 362.0 L380.5 368.0 L369.1 371.6 L347.9 374.2 L321.5 376.0 L295.0 381.3 Z M418.5 366.3 L422.9 361.0 L436.1 360.1 L441.4 364.5 L439.6 368.0 L432.6 371.2 L419.3 368.9 Z M425.5 351.5 L434.5 350.3 L433.5 355.0 Z M295.0 351.3 L305.6 352.6 L295.0 354.0 Z M305.6 362.8 L317.0 361.8 L328.5 362.7 L317.0 363.6 Z M489.3 373.9 L477.1 379.6 L465.7 385.3 L458.6 391.0 L454.0 397.0 L452.0 402.8 L444.9 415.2 L443.1 422.2 L450.2 431.0 L459.0 441.6 L469.6 450.4 L480.2 457.3 L489.3 457.3 Z M358.5 420.5 L375.0 417.5 L392.0 416.9 L408.0 418.5 L420.2 420.5 L407.9 429.0 L392.0 430.0 L375.0 425.0 Z M460.8 420.9 L476.7 416.0 L483.7 409.9 L489.3 404.6 L489.3 438.1 L474.9 429.3 Z" fill="none" stroke="#1a1a1a" stroke-opacity="0.55" stroke-width="0.5"/>
<text x="360.3" y="335.2" transform="rotate(0 360.3 335.2)" font-family="Liberation Sans, sans-serif" font-size="5.7" fill="#fff" fill-opacity="0.92" text-anchor="middle" dominant-baseline="central">1.25</text>
<text x="403.6" y="340.9" transform="rotate(0 403.6 340.9)" font-family="Liberation Sans, sans-serif" font-size="5.7" fill="#fff" fill-opacity="0.92" text-anchor="middle" dominant-baseline="central">1.25</text>
<text x="409.6" y="347.9" transform="rotate(0 409.6 347.9)" font-family="Liberation Sans, sans-serif" font-size="5.7" fill="#fff" fill-opacity="0.92" text-anchor="middle" dominant-baseline="central">1.25</text>
<text x="307.3" y="346.9" transform="rotate(0 307.3 346.9)" font-family="Liberation Sans, sans-serif" font-size="5.7" fill="#fff" fill-opacity="0.92" text-anchor="middle" dominant-baseline="central">1.3</text>
<text x="363.8" y="350.4" transform="rotate(0 363.8 350.4)" font-family="Liberation Sans, sans-serif" font-size="5.7" fill="#fff" fill-opacity="0.92" text-anchor="middle" dominant-baseline="central">1.3</text>
<text x="339.1" y="358.5" transform="rotate(30 339.1 358.5)" font-family="Liberation Sans, sans-serif" font-size="5.7" fill="#fff" fill-opacity="0.92" text-anchor="middle" dominant-baseline="central">1.3</text>
<text x="316.9" y="362.0" transform="rotate(0 316.9 362.0)" font-family="Liberation Sans, sans-serif" font-size="5.7" fill="#fff" fill-opacity="0.92" text-anchor="middle" dominant-baseline="central">1.35</text>
<text x="372.6" y="369.1" transform="rotate(0 372.6 369.1)" font-family="Liberation Sans, sans-serif" font-size="5.7" fill="#fff" fill-opacity="0.92" text-anchor="middle" dominant-baseline="central">1.3</text>
<text x="317.9" y="376.9" transform="rotate(0 317.9 376.9)" font-family="Liberation Sans, sans-serif" font-size="5.7" fill="#fff" fill-opacity="0.92" text-anchor="middle" dominant-baseline="central">1.3</text>
<text x="340.9" y="383.9" transform="rotate(0 340.9 383.9)" font-family="Liberation Sans, sans-serif" font-size="5.7" fill="#fff" fill-opacity="0.92" text-anchor="middle" dominant-baseline="central">1.25</text>
<text x="395.5" y="375.1" transform="rotate(0 395.5 375.1)" font-family="Liberation Sans, sans-serif" font-size="5.7" fill="#fff" fill-opacity="0.92" text-anchor="middle" dominant-baseline="central">1.25</text>
<text x="431.9" y="352.9" transform="rotate(0 431.9 352.9)" font-family="Liberation Sans, sans-serif" font-size="5.7" fill="#fff" fill-opacity="0.92" text-anchor="middle" dominant-baseline="central">1.3</text>
<text x="429.7" y="359.9" transform="rotate(0 429.7 359.9)" font-family="Liberation Sans, sans-serif" font-size="5.7" fill="#fff" fill-opacity="0.92" text-anchor="middle" dominant-baseline="central">1.3</text>
<text x="440.3" y="345.8" transform="rotate(-70 440.3 345.8)" font-family="Liberation Sans, sans-serif" font-size="5.7" fill="#fff" fill-opacity="0.92" text-anchor="middle" dominant-baseline="central">1.25</text>
<text x="455.5" y="341.6" transform="rotate(-90 455.5 341.6)" font-family="Liberation Sans, sans-serif" font-size="5.7" fill="#fff" fill-opacity="0.92" text-anchor="middle" dominant-baseline="central">1.2</text>
<text x="481.2" y="363.5" transform="rotate(-70 481.2 363.5)" font-family="Liberation Sans, sans-serif" font-size="5.7" fill="#fff" fill-opacity="0.92" text-anchor="middle" dominant-baseline="central">1.2</text>
<text x="477.7" y="378.6" transform="rotate(-45 477.7 378.6)" font-family="Liberation Sans, sans-serif" font-size="5.7" fill="#fff" fill-opacity="0.92" text-anchor="middle" dominant-baseline="central">1.15</text>
<text x="438.9" y="376.9" transform="rotate(-60 438.9 376.9)" font-family="Liberation Sans, sans-serif" font-size="5.7" fill="#fff" fill-opacity="0.92" text-anchor="middle" dominant-baseline="central">1.25</text>
<text x="376.1" y="394.5" transform="rotate(0 376.1 394.5)" font-family="Liberation Sans, sans-serif" font-size="5.7" fill="#fff" fill-opacity="0.92" text-anchor="middle" dominant-baseline="central">1.2</text>
<text x="424.8" y="398.0" transform="rotate(45 424.8 398.0)" font-family="Liberation Sans, sans-serif" font-size="5.7" fill="#fff" fill-opacity="0.92" text-anchor="middle" dominant-baseline="central">1.2</text>
<text x="439.6" y="387.4" transform="rotate(-45 439.6 387.4)" font-family="Liberation Sans, sans-serif" font-size="5.7" fill="#fff" fill-opacity="0.92" text-anchor="middle" dominant-baseline="central">1.2</text>
<text x="323.2" y="410.4" transform="rotate(0 323.2 410.4)" font-family="Liberation Sans, sans-serif" font-size="5.7" fill="#fff" fill-opacity="0.92" text-anchor="middle" dominant-baseline="central">1.2</text>
<text x="379.7" y="417.4" transform="rotate(0 379.7 417.4)" font-family="Liberation Sans, sans-serif" font-size="5.7" fill="#fff" fill-opacity="0.92" text-anchor="middle" dominant-baseline="central">1.15</text>
<text x="392.0" y="429.8" transform="rotate(0 392.0 429.8)" font-family="Liberation Sans, sans-serif" font-size="5.7" fill="#fff" fill-opacity="0.92" text-anchor="middle" dominant-baseline="central">1.15</text>
<text x="447.4" y="415.0" transform="rotate(-60 447.4 415.0)" font-family="Liberation Sans, sans-serif" font-size="5.7" fill="#fff" fill-opacity="0.92" text-anchor="middle" dominant-baseline="central">1.15</text>
<text x="467.8" y="426.2" transform="rotate(45 467.8 426.2)" font-family="Liberation Sans, sans-serif" font-size="5.7" fill="#fff" fill-opacity="0.92" text-anchor="middle" dominant-baseline="central">1.1</text>
<text x="310.9" y="436.1" transform="rotate(0 310.9 436.1)" font-family="Liberation Sans, sans-serif" font-size="5.7" fill="#fff" fill-opacity="0.92" text-anchor="middle" dominant-baseline="central">1.2</text>
<text x="365.5" y="444.6" transform="rotate(0 365.5 444.6)" font-family="Liberation Sans, sans-serif" font-size="5.7" fill="#fff" fill-opacity="0.92" text-anchor="middle" dominant-baseline="central">1.2</text>
<text x="414.9" y="444.6" transform="rotate(0 414.9 444.6)" font-family="Liberation Sans, sans-serif" font-size="5.7" fill="#fff" fill-opacity="0.92" text-anchor="middle" dominant-baseline="central">1.2</text>
<text x="310.9" y="450.2" transform="rotate(0 310.9 450.2)" font-family="Liberation Sans, sans-serif" font-size="5.7" fill="#fff" fill-opacity="0.92" text-anchor="middle" dominant-baseline="central">1.25</text>
<text x="473.1" y="452.7" transform="rotate(-45 473.1 452.7)" font-family="Liberation Sans, sans-serif" font-size="5.7" fill="#fff" fill-opacity="0.92" text-anchor="middle" dominant-baseline="central">1.15</text>
</g>
<rect x="295.0" y="331.1" width="194.3" height="126.2" fill="none" stroke="#262626" stroke-width="0.6"/>
<path d="M295.0 331.1 v1.6 M295.0 457.3 v-1.6 M322.8 331.1 v1.6 M322.8 457.3 v-1.6 M350.5 331.1 v1.6 M350.5 457.3 v-1.6 M378.3 331.1 v1.6 M378.3 457.3 v-1.6 M406.0 331.1 v1.6 M406.0 457.3 v-1.6 M433.8 331.1 v1.6 M433.8 457.3 v-1.6 M461.5 331.1 v1.6 M461.5 457.3 v-1.6 M489.3 331.1 v1.6 M489.3 457.3 v-1.6 M295.0 331.1 h1.6 M489.3 331.1 h-1.6 M295.0 362.7 h1.6 M489.3 362.7 h-1.6 M295.0 394.2 h1.6 M489.3 394.2 h-1.6 M295.0 425.8 h1.6 M489.3 425.8 h-1.6 M295.0 457.3 h1.6 M489.3 457.3 h-1.6" stroke="#262626" stroke-width="0.5" fill="none"/>
<rect x="498.2" y="331.1" width="6.1" height="126.2" fill="url(#cb)"/>
<rect x="498.2" y="331.1" width="6.1" height="126.2" fill="none" stroke="#262626" stroke-width="0.3" stroke-opacity="0.4"/>
<text x="27.3" y="12.7" font-family="Liberation Serif, serif" font-size="12.3" fill="#303030" stroke="#303030" stroke-width="0.18" text-anchor="start"  >(a)</text>
<text x="296.3" y="12.7" font-family="Liberation Serif, serif" font-size="12.3" fill="#303030" stroke="#303030" stroke-width="0.18" text-anchor="start"  >(b)</text>
<text x="27.3" y="168.5" font-family="Liberation Serif, serif" font-size="12.3" fill="#303030" stroke="#303030" stroke-width="0.18" text-anchor="start"  >(c)</text>
<text x="296.3" y="168.5" font-family="Liberation Serif, serif" font-size="12.3" fill="#303030" stroke="#303030" stroke-width="0.18" text-anchor="start"  >(d)</text>
<text x="27.3" y="324.7" font-family="Liberation Serif, serif" font-size="12.3" fill="#303030" stroke="#303030" stroke-width="0.18" text-anchor="start"  >(e)</text>
<text x="296.8" y="324.7" font-family="Liberation Serif, serif" font-size="12.3" fill="#303030" stroke="#303030" stroke-width="0.18" text-anchor="start"  >(f)</text>
<text x="126.2" y="11.8" font-family="Liberation Serif, serif" font-size="12.2" fill="#303030" stroke="#303030" stroke-width="0.18" text-anchor="middle"  >Leader</text>
<text x="393.5" y="11.8" font-family="Liberation Serif, serif" font-size="12.2" fill="#303030" stroke="#303030" stroke-width="0.18" text-anchor="middle"  >Follower</text>
<path d="M109.3 13.7 H143.1 M372.1 13.7 H414.9" stroke="#262626" stroke-width="0.6"/>
<text x="25.3" y="25.7" font-family="Liberation Serif, serif" font-size="7.3" fill="#444" stroke="#444" stroke-width="0.00" text-anchor="end"  >2&#960;</text>
<text x="25.3" y="57.2" font-family="Liberation Serif, serif" font-size="7.3" fill="#444" stroke="#444" stroke-width="0.00" text-anchor="end"  >3&#960;/2</text>
<text x="25.3" y="88.8" font-family="Liberation Serif, serif" font-size="7.3" fill="#444" stroke="#444" stroke-width="0.00" text-anchor="end"  >&#960;</text>
<text x="25.3" y="120.4" font-family="Liberation Serif, serif" font-size="7.3" fill="#444" stroke="#444" stroke-width="0.00" text-anchor="end"  >&#960;/2</text>
<text x="25.3" y="151.9" font-family="Liberation Serif, serif" font-size="7.3" fill="#444" stroke="#444" stroke-width="0.00" text-anchor="end"  >0</text>
<text x="8.3" y="89.5" font-family="Liberation Serif, serif" font-size="11.5" fill="#303030" stroke="#303030" stroke-width="0.18" text-anchor="middle" font-style="italic" >&#981;</text>
<text x="25.3" y="180.3" font-family="Liberation Serif, serif" font-size="7.3" fill="#444" stroke="#444" stroke-width="0.00" text-anchor="end"  >2&#960;</text>
<text x="25.3" y="211.8" font-family="Liberation Serif, serif" font-size="7.3" fill="#444" stroke="#444" stroke-width="0.00" text-anchor="end"  >3&#960;/2</text>
<text x="25.3" y="243.2" font-family="Liberation Serif, serif" font-size="7.3" fill="#444" stroke="#444" stroke-width="0.00" text-anchor="end"  >&#960;</text>
<text x="25.3" y="274.6" font-family="Liberation Serif, serif" font-size="7.3" fill="#444" stroke="#444" stroke-width="0.00" text-anchor="end"  >&#960;/2</text>
<text x="25.3" y="306.1" font-family="Liberation Serif, serif" font-size="7.3" fill="#444" stroke="#444" stroke-width="0.00" text-anchor="end"  >0</text>
<text x="8.3" y="243.9" font-family="Liberation Serif, serif" font-size="11.5" fill="#303030" stroke="#303030" stroke-width="0.18" text-anchor="middle" font-style="italic" >&#981;</text>
<text x="25.3" y="333.6" font-family="Liberation Serif, serif" font-size="7.3" fill="#444" stroke="#444" stroke-width="0.00" text-anchor="end"  >2&#960;</text>
<text x="25.3" y="365.2" font-family="Liberation Serif, serif" font-size="7.3" fill="#444" stroke="#444" stroke-width="0.00" text-anchor="end"  >3&#960;/2</text>
<text x="25.3" y="396.7" font-family="Liberation Serif, serif" font-size="7.3" fill="#444" stroke="#444" stroke-width="0.00" text-anchor="end"  >&#960;</text>
<text x="25.3" y="428.2" font-family="Liberation Serif, serif" font-size="7.3" fill="#444" stroke="#444" stroke-width="0.00" text-anchor="end"  >&#960;/2</text>
<text x="25.3" y="459.8" font-family="Liberation Serif, serif" font-size="7.3" fill="#444" stroke="#444" stroke-width="0.00" text-anchor="end"  >0</text>
<text x="8.3" y="397.4" font-family="Liberation Serif, serif" font-size="11.5" fill="#303030" stroke="#303030" stroke-width="0.18" text-anchor="middle" font-style="italic" >&#981;</text>
<text x="26.3" y="466.1" font-family="Liberation Serif, serif" font-size="8.0" fill="#303030" stroke="#303030" stroke-width="0.18" text-anchor="middle"  >1</text>
<text x="52.4" y="466.1" font-family="Liberation Serif, serif" font-size="8.0" fill="#303030" stroke="#303030" stroke-width="0.18" text-anchor="middle"  >1.08</text>
<text x="79.9" y="466.1" font-family="Liberation Serif, serif" font-size="8.0" fill="#303030" stroke="#303030" stroke-width="0.18" text-anchor="middle"  >1.16</text>
<text x="107.5" y="466.1" font-family="Liberation Serif, serif" font-size="8.0" fill="#303030" stroke="#303030" stroke-width="0.18" text-anchor="middle"  >1.20</text>
<text x="134.5" y="466.1" font-family="Liberation Serif, serif" font-size="8.0" fill="#303030" stroke="#303030" stroke-width="0.18" text-anchor="middle"  >1.28</text>
<text x="162.4" y="466.1" font-family="Liberation Serif, serif" font-size="8.0" fill="#303030" stroke="#303030" stroke-width="0.18" text-anchor="middle"  >1.36</text>
<text x="190.6" y="466.1" font-family="Liberation Serif, serif" font-size="8.0" fill="#303030" stroke="#303030" stroke-width="0.18" text-anchor="middle"  >1.44</text>
<text x="217.6" y="466.1" font-family="Liberation Serif, serif" font-size="8.0" fill="#303030" stroke="#303030" stroke-width="0.18" text-anchor="middle"  >1.48</text>
<text x="114.2" y="477.1" font-family="Liberation Serif, serif" font-size="13.4" fill="#2e2e2e" font-style="italic">R<tspan font-size="9.4" dy="1.7" dx="-0.9">A</tspan><tspan font-size="7" dy="-2.9" dx="0.9" font-style="normal">&#8226;</tspan></text>
<text x="294.5" y="466.1" font-family="Liberation Serif, serif" font-size="8.0" fill="#303030" stroke="#303030" stroke-width="0.18" text-anchor="middle"  >1</text>
<text x="320.6" y="466.1" font-family="Liberation Serif, serif" font-size="8.0" fill="#303030" stroke="#303030" stroke-width="0.18" text-anchor="middle"  >1.08</text>
<text x="348.1" y="466.1" font-family="Liberation Serif, serif" font-size="8.0" fill="#303030" stroke="#303030" stroke-width="0.18" text-anchor="middle"  >1.16</text>
<text x="375.7" y="466.1" font-family="Liberation Serif, serif" font-size="8.0" fill="#303030" stroke="#303030" stroke-width="0.18" text-anchor="middle"  >1.20</text>
<text x="402.7" y="466.1" font-family="Liberation Serif, serif" font-size="8.0" fill="#303030" stroke="#303030" stroke-width="0.18" text-anchor="middle"  >1.28</text>
<text x="430.6" y="466.1" font-family="Liberation Serif, serif" font-size="8.0" fill="#303030" stroke="#303030" stroke-width="0.18" text-anchor="middle"  >1.36</text>
<text x="458.8" y="466.1" font-family="Liberation Serif, serif" font-size="8.0" fill="#303030" stroke="#303030" stroke-width="0.18" text-anchor="middle"  >1.44</text>
<text x="485.8" y="466.1" font-family="Liberation Serif, serif" font-size="8.0" fill="#303030" stroke="#303030" stroke-width="0.18" text-anchor="middle"  >1.48</text>
<text x="385.0" y="477.1" font-family="Liberation Serif, serif" font-size="13.4" fill="#2e2e2e" font-style="italic">R<tspan font-size="9.4" dy="1.7" dx="-0.9">A</tspan><tspan font-size="7" dy="-2.9" dx="0.9" font-style="normal">&#8226;</tspan></text>
<text x="238.7" y="145.5" font-family="Liberation Serif, serif" font-size="7.6" fill="#303030" stroke="#303030" stroke-width="0.18" text-anchor="start"  >0.9</text>
<text x="238.7" y="128.3" font-family="Liberation Serif, serif" font-size="7.6" fill="#303030" stroke="#303030" stroke-width="0.18" text-anchor="start"  >0.95</text>
<text x="238.7" y="111.2" font-family="Liberation Serif, serif" font-size="7.6" fill="#303030" stroke="#303030" stroke-width="0.18" text-anchor="start"  >1</text>
<text x="238.7" y="94.0" font-family="Liberation Serif, serif" font-size="7.6" fill="#303030" stroke="#303030" stroke-width="0.18" text-anchor="start"  >1.05</text>
<text x="238.7" y="76.9" font-family="Liberation Serif, serif" font-size="7.6" fill="#303030" stroke="#303030" stroke-width="0.18" text-anchor="start"  >1.1</text>
<text x="238.7" y="59.8" font-family="Liberation Serif, serif" font-size="7.6" fill="#303030" stroke="#303030" stroke-width="0.18" text-anchor="start"  >1.15</text>
<text x="238.7" y="42.6" font-family="Liberation Serif, serif" font-size="7.6" fill="#303030" stroke="#303030" stroke-width="0.18" text-anchor="start"  >1.2</text>
<text x="506.6" y="147.8" font-family="Liberation Serif, serif" font-size="7.6" fill="#303030" stroke="#303030" stroke-width="0.18" text-anchor="start"  >1.5</text>
<text x="506.6" y="118.6" font-family="Liberation Serif, serif" font-size="7.6" fill="#303030" stroke="#303030" stroke-width="0.18" text-anchor="start"  >2</text>
<text x="506.6" y="89.4" font-family="Liberation Serif, serif" font-size="7.6" fill="#303030" stroke="#303030" stroke-width="0.18" text-anchor="start"  >2.5</text>
<text x="506.6" y="60.2" font-family="Liberation Serif, serif" font-size="7.6" fill="#303030" stroke="#303030" stroke-width="0.18" text-anchor="start"  >3</text>
<text x="506.6" y="31.0" font-family="Liberation Serif, serif" font-size="7.6" fill="#303030" stroke="#303030" stroke-width="0.18" text-anchor="start"  >3.5</text>
<text x="238.7" y="290.3" font-family="Liberation Serif, serif" font-size="7.6" fill="#303030" stroke="#303030" stroke-width="0.18" text-anchor="start"  >0.8</text>
<text x="238.7" y="268.2" font-family="Liberation Serif, serif" font-size="7.6" fill="#303030" stroke="#303030" stroke-width="0.18" text-anchor="start"  >0.85</text>
<text x="238.7" y="246.2" font-family="Liberation Serif, serif" font-size="7.6" fill="#303030" stroke="#303030" stroke-width="0.18" text-anchor="start"  >0.9</text>
<text x="238.7" y="224.1" font-family="Liberation Serif, serif" font-size="7.6" fill="#303030" stroke="#303030" stroke-width="0.18" text-anchor="start"  >0.95</text>
<text x="238.7" y="202.0" font-family="Liberation Serif, serif" font-size="7.6" fill="#303030" stroke="#303030" stroke-width="0.18" text-anchor="start"  >1</text>
<text x="238.7" y="180.0" font-family="Liberation Serif, serif" font-size="7.6" fill="#303030" stroke="#303030" stroke-width="0.18" text-anchor="start"  >1.05</text>
<text x="506.6" y="283.7" font-family="Liberation Serif, serif" font-size="7.6" fill="#303030" stroke="#303030" stroke-width="0.18" text-anchor="start"  >1.5</text>
<text x="506.6" y="252.7" font-family="Liberation Serif, serif" font-size="7.6" fill="#303030" stroke="#303030" stroke-width="0.18" text-anchor="start"  >2</text>
<text x="506.6" y="221.7" font-family="Liberation Serif, serif" font-size="7.6" fill="#303030" stroke="#303030" stroke-width="0.18" text-anchor="start"  >2.5</text>
<text x="506.6" y="190.7" font-family="Liberation Serif, serif" font-size="7.6" fill="#303030" stroke="#303030" stroke-width="0.18" text-anchor="start"  >3</text>
<text x="238.7" y="436.4" font-family="Liberation Serif, serif" font-size="7.6" fill="#303030" stroke="#303030" stroke-width="0.18" text-anchor="start"  >1.05</text>
<text x="238.7" y="410.9" font-family="Liberation Serif, serif" font-size="7.6" fill="#303030" stroke="#303030" stroke-width="0.18" text-anchor="start"  >1.1</text>
<text x="238.7" y="385.3" font-family="Liberation Serif, serif" font-size="7.6" fill="#303030" stroke="#303030" stroke-width="0.18" text-anchor="start"  >1.15</text>
<text x="238.7" y="359.8" font-family="Liberation Serif, serif" font-size="7.6" fill="#303030" stroke="#303030" stroke-width="0.18" text-anchor="start"  >1.2</text>
<text x="238.7" y="334.2" font-family="Liberation Serif, serif" font-size="7.6" fill="#303030" stroke="#303030" stroke-width="0.18" text-anchor="start"  >1.25</text>
<text x="506.6" y="449.3" font-family="Liberation Serif, serif" font-size="7.6" fill="#303030" stroke="#303030" stroke-width="0.18" text-anchor="start"  >1.1</text>
<text x="506.6" y="426.2" font-family="Liberation Serif, serif" font-size="7.6" fill="#303030" stroke="#303030" stroke-width="0.18" text-anchor="start"  >1.15</text>
<text x="506.6" y="403.0" font-family="Liberation Serif, serif" font-size="7.6" fill="#303030" stroke="#303030" stroke-width="0.18" text-anchor="start"  >1.2</text>
<text x="506.6" y="379.9" font-family="Liberation Serif, serif" font-size="7.6" fill="#303030" stroke="#303030" stroke-width="0.18" text-anchor="start"  >1.25</text>
<text x="506.6" y="356.8" font-family="Liberation Serif, serif" font-size="7.6" fill="#303030" stroke="#303030" stroke-width="0.18" text-anchor="start"  >1.3</text>
<text x="506.6" y="333.7" font-family="Liberation Serif, serif" font-size="7.6" fill="#303030" stroke="#303030" stroke-width="0.18" text-anchor="start"  >1.35</text>
<text x="253.4" y="88.0" font-family="Liberation Serif, serif" font-size="13.2" fill="#262626" font-style="italic">C<tspan font-size="8.8" dy="-1.6" dx="0.9" font-style="normal">*</tspan><tspan font-size="9.0" dy="4.4" dx="-5.0" letter-spacing="0.25">T,&#8201;L</tspan></text>
<text x="520.7" y="83.3" font-family="Liberation Serif, serif" font-size="13.2" fill="#262626" font-style="italic">C<tspan font-size="8.8" dy="-1.6" dx="0.9" font-style="normal">*</tspan><tspan font-size="9.0" dy="4.4" dx="-5.0" letter-spacing="0.25">T,&#8201;F</tspan></text>
<text x="253.4" y="239.5" font-family="Liberation Serif, serif" font-size="13.2" fill="#262626" font-style="italic">C<tspan font-size="8.8" dy="-1.6" dx="0.9" font-style="normal">*</tspan><tspan font-size="9.0" dy="4.4" dx="-5.0" letter-spacing="0.25">P,&#8201;L</tspan></text>
<text x="520.8" y="239.5" font-family="Liberation Serif, serif" font-size="13.2" fill="#262626" font-style="italic">C<tspan font-size="8.8" dy="-1.6" dx="0.9" font-style="normal">*</tspan><tspan font-size="9.0" dy="4.4" dx="-5.0" letter-spacing="0.25">P,&#8201;F</tspan></text>
<text x="254.3" y="395.7" font-family="Liberation Serif, serif" font-size="13.2" fill="#262626" font-style="italic">&#951;<tspan font-size="8.8" dy="-1.6" dx="0.9" font-style="normal">*</tspan><tspan font-size="9.0" dy="4.4" dx="-5.0" letter-spacing="0.25">L</tspan></text>
<text x="521.3" y="395.5" font-family="Liberation Serif, serif" font-size="13.2" fill="#262626" font-style="italic">&#951;<tspan font-size="8.8" dy="-1.6" dx="0.9" font-style="normal">*</tspan><tspan font-size="9.0" dy="4.4" dx="-5.0" letter-spacing="0.25">F</tspan></text>
</svg></body></html>
